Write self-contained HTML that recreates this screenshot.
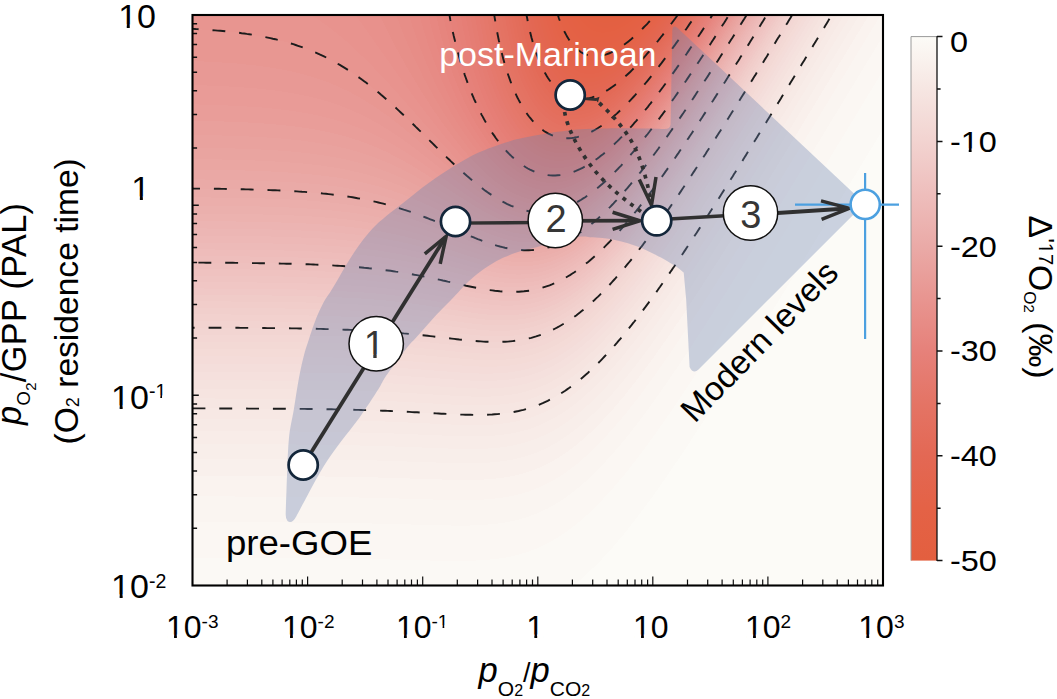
<!DOCTYPE html>
<html lang="en"><head><meta charset="utf-8"><title>chart</title>
<style>
html,body{margin:0;padding:0;background:#fff;}
body{width:1057px;height:699px;overflow:hidden;position:relative;font-family:"Liberation Sans",sans-serif;color:#000;}
svg{display:block;position:absolute;left:0;top:0;}
.t{position:absolute;white-space:nowrap;line-height:1;font-family:"Liberation Sans",sans-serif;transform-origin:0 0;}
.t span{font-family:"Liberation Sans",sans-serif;}
i{font-family:"Liberation Sans",sans-serif;font-style:italic;}
</style></head><body>
<svg width="1057" height="699" viewBox="0 0 1057 699">
<defs>
<clipPath id="plot"><rect x="192.5" y="15" width="690.5" height="570.5"/></clipPath>
<linearGradient id="cbg" x1="0" y1="0" x2="0" y2="1"><stop offset="0" stop-color="#fcfbf7"/><stop offset="0.1" stop-color="#f6e6e2"/><stop offset="0.2" stop-color="#f2d3d0"/><stop offset="0.3" stop-color="#eebebc"/><stop offset="0.4" stop-color="#eaaaa7"/><stop offset="0.5" stop-color="#e89590"/><stop offset="0.6" stop-color="#e6817a"/><stop offset="0.7" stop-color="#e47465"/><stop offset="0.8" stop-color="#e36854"/><stop offset="0.9" stop-color="#e46246"/><stop offset="1" stop-color="#e35f3f"/></linearGradient>
</defs>
<rect x="0" y="0" width="1057" height="699" fill="#ffffff"/>
<g clip-path="url(#plot)">
<rect x="192.5" y="15" width="690.5" height="570.5" fill="#fcfbf7"/>
<g shape-rendering="crispEdges">
<path fill="#fbf9f5" d="M188.5,3L188.5,617.7 274.3,617.8 332.1,618.2 372.3,618.8 449.3,620.4 466.8,620.3 482.6,619.6 494.9,618.4 505.4,616.8 515.9,614.6 526.4,611.5 536.9,607.5 545.6,603.5 556.1,597.6 564.9,591.8 575.4,583.9 580.6,579.6 587.6,573.3 599.9,561.3 612.2,548 624.4,533.5 638.4,515.6 654.2,494.3 669.9,471.8 685.7,448.4 703.2,421.6 722.4,391.4 745.2,355.1 801.2,264 887,122.7L887,3Z"/>
<path fill="#fbf7f3" d="M188.5,3L188.5,557.9 276,558.1 333.8,558.5 374.1,559.1 433.6,560.6 452.8,560.9 470.4,560.8 484.4,560.1 496.6,558.9 507.1,557.3 517.6,554.9 528.1,551.8 538.6,547.7 547.4,543.5 557.9,537.5 566.6,531.7 577.1,523.6 582.4,519.2 589.4,512.8 601.6,500.6 613.9,487.1 626.2,472.5 640.2,454.5 654.2,435.5 669.9,413 685.7,389.6 703.2,362.9 722.4,332.7 745.2,296.4 801.2,205.3 887,64L887,3Z"/>
<path fill="#faf5f1" d="M188.5,3L188.5,522.2 276,522.4 335.6,522.9 377.6,523.6 437.1,525.2 454.6,525.6 470.4,525.5 484.4,524.9 496.6,523.7 507.1,522.2 517.6,519.9 528.1,516.8 538.6,512.8 547.4,508.6 552.6,505.8 557.9,502.6 566.6,496.8 577.1,488.8 582.4,484.4 589.4,478 601.6,465.9 613.9,452.4 626.2,437.8 640.2,419.9 654.2,400.8 669.9,378.3 685.7,355 703.2,328.2 722.4,298.1 745.2,261.8 801.2,170.7 887,29.4L887,3Z"/>
<path fill="#faf3ef" d="M188.5,3L188.5,496.4 277.8,496.6 337.3,497.1 379.3,497.9 438.8,499.7 456.3,500.1 472.1,500 486.1,499.4 498.4,498.2 508.9,496.6 519.4,494.3 529.9,491.1 540.4,486.9 549.1,482.7 557.9,477.6 566.6,471.8 577.1,463.9 582.4,459.4 589.4,453.1 601.6,441 613.9,427.6 626.2,413 640.2,395.1 654.2,376 669.9,353.6 685.7,330.2 703.2,303.5 722.4,273.3 745.2,237 801.2,145.9 887,4.6L887,3Z"/>
<path fill="#f9f0ec" d="M188.5,3L188.5,475.9 269,476.1 325,476.5 377.6,477.5 454.6,479.9 472.1,480 486.1,479.4 498.4,478.3 508.9,476.8 519.4,474.5 528.1,471.9 538.6,468 547.4,463.9 556.1,459.1 564.9,453.5 575.4,445.7 580.6,441.4 587.6,435.3 592.9,430.3 599.9,423.4 612.2,410.1 624.4,395.7 638.4,378 652.4,359.1 666.4,339.3 682.2,316.1 697.9,292.2 717.2,262.2 738.2,228.9 785.5,152.4 874.7,5.5 876.5,3L876.5,3Z"/>
<path fill="#f8eeea" d="M188.5,3L188.5,458.8 272.5,459 330.3,459.5 381.1,460.6 456.3,463.2 472.1,463.3 486.1,462.9 498.4,461.8 508.9,460.3 519.4,458.1 528.1,455.6 536.9,452.4 545.6,448.6 554.4,443.9 563.1,438.5 573.6,431 578.9,426.8 585.9,420.8 596.4,410.8 608.7,398 620.9,383.9 634.9,366.5 648.9,347.9 662.9,328.3 676.9,308 692.7,284.3 708.4,260 727.7,229.7 752.2,190.5 782,142.2 866,4.1 867.7,3L867.7,3Z"/>
<path fill="#f8ece8" d="M188.5,3L188.5,444.1 276,444.3 333.8,444.9 384.6,446.1 456.3,448.8 472.1,449 486.1,448.7 498.4,447.7 508.9,446.3 519.4,444.1 528.1,441.6 536.9,438.5 545.6,434.7 554.4,430.1 563.1,424.7 573.6,417.2 578.9,413 585.9,407 596.4,397.1 608.7,384.3 620.9,370.3 634.9,352.9 648.9,334.3 662.9,314.7 676.9,294.4 692.7,270.7 710.2,243.7 729.4,213.4 752.2,176.9 780.2,131.5 857.2,5 859,3L859,3Z"/>
<path fill="#f7eae6" d="M188.5,3L188.5,431 277.8,431.3 337.3,431.9 386.3,433.2 458.1,436.2 473.9,436.4 486.1,436.1 496.6,435.4 507.1,434.2 517.6,432.2 526.4,429.9 535.1,427 543.9,423.3 552.6,418.9 561.4,413.7 571.9,406.5 577.1,402.4 584.1,396.5 594.6,386.9 606.9,374.3 619.2,360.4 631.4,345.4 645.4,327.1 659.4,307.8 673.4,287.6 689.2,264.2 704.9,240 724.2,209.8 746.9,173.5 775,128.2 850.2,4.7 852,3L852,3Z"/>
<path fill="#f7e8e4" d="M188.5,3L188.5,419.2 279.5,419.5 339.1,420.2 363.6,420.8 388.1,421.6 459.8,424.9 475.6,425.1 487.9,424.9 498.4,424.1 508.9,422.8 517.6,421.2 526.4,418.9 535.1,416 543.9,412.4 552.6,408.1 561.4,402.9 571.9,395.7 577.1,391.7 584.1,385.8 594.6,376.2 606.9,363.6 619.2,349.8 631.4,334.8 645.4,316.6 659.4,297.2 675.2,274.5 690.9,251 708.4,224 727.7,193.7 773.2,120.5 845,3L845,3Z"/>
<path fill="#f6e6e2" d="M188.5,3L188.5,408.4 281.3,408.7 340.8,409.5 365.3,410.1 389.8,411 461.6,414.6 475.6,414.9 487.9,414.7 498.4,414 508.9,412.8 517.6,411.2 526.4,409 535.1,406.1 543.9,402.6 552.6,398.3 561.4,393.2 571.9,386 577.1,382 584.1,376.2 594.6,366.5 606.9,354 619.2,340.2 631.4,325.3 643.7,309.3 657.7,290.2 671.7,270.1 685.7,249.4 701.4,225.4 720.7,195.3 743.4,159.1 768,119.5 838,4.8 839.7,3L839.7,3Z"/>
<path fill="#f6e4e0" d="M188.5,3L188.5,398.4 283,398.8 344.3,399.6 368.8,400.3 391.6,401.2 461.6,405.1 475.6,405.4 487.9,405.3 498.4,404.7 508.9,403.5 517.6,402 526.4,399.9 535.1,397.1 543.9,393.6 552.6,389.3 559.6,385.3 564.9,382 570.1,378.4 575.4,374.5 582.4,368.8 592.9,359.4 605.1,347.1 617.4,333.5 629.7,318.7 641.9,303 655.9,283.9 669.9,264 683.9,243.3 699.7,219.4 718.9,189.4 741.7,153.3 766.2,113.7 832.7,4.8 834.5,3L834.5,3Z"/>
<path fill="#f5e2de" d="M188.5,3L188.5,389.1 284.8,389.4 318,389.8 346.1,390.4 370.6,391.2 393.3,392.1 463.3,396.3 477.4,396.7 489.6,396.6 500.1,396 508.9,395 517.6,393.5 526.4,391.4 535.1,388.7 543.9,385.3 552.6,381 559.6,377.1 564.9,373.8 570.1,370.2 580.6,362.1 591.1,352.9 596.4,347.9 603.4,340.8 615.7,327.4 627.9,312.8 640.2,297.2 654.2,278.3 668.2,258.5 683.9,235.3 699.7,211.4 718.9,181.4 759.2,117.1 789,68.7 827.5,5.5 829.2,3L829.2,3Z"/>
<path fill="#f5e0dd" d="M188.5,3L188.5,380.2 284.8,380.6 318,381.1 347.8,381.7 372.3,382.5 395.1,383.6 465.1,388.1 477.4,388.5 489.6,388.5 500.1,387.9 508.9,387 517.6,385.6 526.4,383.6 535.1,380.9 543.9,377.5 552.6,373.3 559.6,369.4 564.9,366.1 570.1,362.5 580.6,354.5 591.1,345.3 596.4,340.4 603.4,333.3 613.9,321.9 626.2,307.5 638.4,292.1 652.4,273.3 666.4,253.6 680.4,233.1 696.2,209.4 711.9,185 732.9,151.9 757.5,112.5 787.2,64.2 824,3.9 825.7,3L825.7,3Z"/>
<path fill="#f4dedb" d="M188.5,3L188.5,371.9 284.8,372.3 318,372.7 347.8,373.4 372.3,374.3 396.8,375.5 466.8,380.4 479.1,380.8 491.4,380.8 501.9,380.2 510.6,379.3 519.4,377.8 528.1,375.7 536.9,373 543.9,370.2 552.6,366.1 559.6,362.2 564.9,358.9 570.1,355.4 580.6,347.4 591.1,338.3 596.4,333.3 603.4,326.3 613.9,314.9 626.2,300.5 638.4,285.1 652.4,266.4 666.4,246.7 680.4,226.2 696.2,202.5 715.4,172.6 734.7,142.2 755.7,108.5 820.5,3L820.5,3Z"/>
<path fill="#f4dcd9" d="M188.5,3L188.5,363.9 286.5,364.3 319.8,364.8 349.6,365.6 374.1,366.5 398.6,367.8 466.8,373 479.1,373.5 491.4,373.6 501.9,373.1 510.6,372.2 519.4,370.8 526.4,369.2 535.1,366.7 542.1,364.1 550.9,360.2 557.9,356.4 563.1,353.3 568.4,349.9 578.9,342.1 589.4,333.2 594.6,328.4 601.6,321.5 612.2,310.3 624.4,296.1 636.7,280.8 650.7,262.2 664.7,242.7 678.7,222.3 694.4,198.6 710.2,174.4 731.2,141.3 754,104.8 815.2,4.9 817,3L817,3Z"/>
<path fill="#f4dbd7" d="M188.5,3L188.5,356.2 288.3,356.7 321.5,357.2 351.3,358 375.8,359 400.3,360.5 468.6,366 480.9,366.6 493.1,366.7 503.6,366.2 512.4,365.3 521.1,363.8 528.1,362.2 536.9,359.5 543.9,356.9 550.9,353.7 557.9,350 563.1,346.9 568.4,343.5 578.9,335.8 589.4,326.9 599.9,317 610.4,306 622.7,292 634.9,276.9 648.9,258.5 662.9,239 676.9,218.8 692.7,195.2 708.4,171 729.4,138 752.2,101.5 811.7,4.6 813.5,3L813.5,3Z"/>
<path fill="#f3d9d5" d="M188.5,3L188.5,348.7 246.3,348.9 288.3,349.3 323.3,349.9 353.1,350.8 377.6,351.9 400.3,353.3 470.4,359.4 482.6,360 493.1,360.1 503.6,359.7 512.4,358.9 521.1,357.5 528.1,355.9 536.9,353.3 543.9,350.7 550.9,347.6 557.9,343.9 563.1,340.8 568.4,337.5 578.9,329.8 589.4,321 599.9,311 610.4,300.1 622.7,286.1 634.9,271 648.9,252.6 661.2,235.7 675.2,215.5 690.9,192 706.7,167.9 725.9,137.7 748.7,101.4 775,58.9 808.2,4.5 810,3L810,3Z"/>
<path fill="#f3d7d4" d="M188.5,3L188.5,341.5 246.3,341.7 288.3,342.1 323.3,342.7 353.1,343.7 377.6,344.8 402.1,346.5 423.1,348.4 459.8,352 472.1,353 484.4,353.7 494.9,353.8 503.6,353.5 512.4,352.7 521.1,351.4 528.1,349.9 536.9,347.3 543.9,344.8 550.9,341.7 557.9,338.1 563.1,335 568.4,331.7 573.6,328 578.9,324.1 589.4,315.3 599.9,305.4 610.4,294.4 622.7,280.5 634.9,265.4 648.9,247.1 661.2,230.1 675.2,210 690.9,186.5 706.7,162.4 725.9,132.2 748.7,95.9 804.7,4.8 806.5,3L806.5,3Z"/>
<path fill="#f2d5d2" d="M188.5,3L188.5,334.5 246.3,334.7 290,335.2 325,335.8 354.8,336.8 379.3,338.1 403.8,339.9 421.3,341.6 458.1,345.5 472.1,346.8 484.4,347.5 494.9,347.8 503.6,347.5 512.4,346.8 521.1,345.6 528.1,344.1 536.9,341.6 543.9,339.1 550.9,336.1 557.9,332.5 563.1,329.5 568.4,326.1 573.6,322.5 578.9,318.6 589.4,309.8 599.9,300 610.4,289.1 622.7,275.2 634.9,260.1 647.2,244.1 661.2,224.8 675.2,204.7 690.9,181.2 706.7,157.1 722.4,132.5 741.7,101.9 768,59.5 801.2,5.3 803,3L803,3Z"/>
<path fill="#f2d3d0" d="M188.5,3L188.5,327.7 248,327.9 291.8,328.4 326.8,329.1 356.6,330.2 381.1,331.6 403.8,333.4 421.3,335.1 459.8,339.5 473.9,340.9 486.1,341.7 496.6,341.9 505.4,341.7 512.4,341.2 521.1,340 528.1,338.5 535.1,336.7 542.1,334.3 549.1,331.5 556.1,328.1 561.4,325.2 566.6,322 571.9,318.5 577.1,314.7 587.6,306.1 598.1,296.5 608.7,285.8 620.9,272.1 633.2,257.2 645.4,241.4 657.7,224.7 669.9,207.3 683.9,186.7 697.9,165.6 717.2,135.7 739.9,99.7 766.2,57.4 799.5,3.1 801.2,3L801.2,3Z"/>
<path fill="#f2d1ce" d="M188.5,3L188.5,320.9 248,321.2 291.8,321.7 326.8,322.4 356.6,323.6 377.6,324.8 398.6,326.5 421.3,328.8 470.4,334.7 484.4,335.9 496.6,336.3 505.4,336.1 512.4,335.7 521.1,334.5 528.1,333.2 535.1,331.4 542.1,329.1 549.1,326.2 556.1,322.9 561.4,320 566.6,316.9 571.9,313.4 577.1,309.6 587.6,301.1 598.1,291.5 608.7,280.8 620.9,267.2 633.2,252.3 645.4,236.5 657.7,219.8 669.9,202.4 683.9,181.9 699.7,158 718.9,128.1 739.9,94.8 766.2,52.6 796,4.1 797.7,3L797.7,3Z"/>
<path fill="#f1cfcc" d="M188.5,3L188.5,314.3 249.8,314.6 293.5,315.1 328.6,316 358.3,317.2 379.3,318.6 400.3,320.4 423.1,322.9 472.1,329.1 486.1,330.4 498.4,330.8 507.1,330.7 514.1,330.2 521.1,329.3 528.1,328 535.1,326.2 542.1,324 549.1,321.2 556.1,317.9 561.4,315.1 566.6,311.9 571.9,308.5 577.1,304.7 587.6,296.3 598.1,286.7 608.7,276.1 620.9,262.4 633.2,247.6 645.4,231.8 657.7,215.1 671.7,195.2 685.7,174.6 701.4,150.7 717.2,126.3 734.7,98.6 761,56.4 792.5,5.2 794.2,3L794.2,3Z"/>
<path fill="#f1cdca" d="M188.5,3L188.5,307.8 249.8,308.1 293.5,308.6 328.6,309.5 358.3,310.9 379.3,312.3 400.3,314.2 423.1,316.8 461.6,322.2 473.9,323.8 486.1,324.9 498.4,325.5 507.1,325.4 514.1,325 521.1,324.2 528.1,322.9 535.1,321.2 542.1,319 549.1,316.3 556.1,313.1 561.4,310.3 566.6,307.1 571.9,303.7 577.1,300 587.6,291.6 598.1,282.1 608.7,271.4 619.2,259.9 631.4,245.2 643.7,229.6 655.9,213 668.2,195.8 682.2,175.3 696.2,154.3 715.4,124.5 736.4,91.3 761,52 790.7,3.6 792.5,3L792.5,3Z"/>
<path fill="#f0cbc8" d="M188.5,3L188.5,301.3 249.8,301.6 293.5,302.2 328.6,303.1 358.3,304.5 381.1,306.2 402.1,308.3 424.8,311.1 473.9,318.3 487.9,319.8 500.1,320.4 508.9,320.3 515.9,319.8 522.9,319 529.9,317.7 536.9,315.9 543.9,313.6 550.9,310.8 556.1,308.4 561.4,305.6 566.6,302.5 571.9,299.1 577.1,295.4 587.6,287.1 598.1,277.6 608.7,267 619.2,255.4 631.4,240.8 643.7,225.2 655.9,208.7 669.9,188.9 683.9,168.4 699.7,144.6 717.2,117.5 738.2,84.2 787.2,5 789,3L789,3Z"/>
<path fill="#f0c8c6" d="M188.5,3L188.5,294.8 249.8,295.2 293.5,295.8 330.3,296.9 360.1,298.4 382.8,300.2 403.8,302.4 426.6,305.6 463.3,311.4 475.6,313.2 487.9,314.6 500.1,315.3 508.9,315.3 515.9,314.9 522.9,314.1 529.9,312.9 536.9,311.2 543.9,309 550.9,306.2 556.1,303.8 564.9,299.1 570.1,295.8 575.4,292.2 580.6,288.3 585.9,284.1 596.4,274.9 606.9,264.5 617.4,253.1 629.7,238.7 641.9,223.2 654.2,206.9 666.4,189.7 680.4,169.4 694.4,148.4 711.9,121.5 732.9,88.4 757.5,49.1 785.5,3.7 787.2,3L787.2,3Z"/>
<path fill="#f0c6c4" d="M188.5,3L188.5,288.4 249.8,288.8 293.5,289.4 330.3,290.6 360.1,292.2 382.8,294.1 403.8,296.5 426.6,299.8 463.3,306 475.6,307.9 489.6,309.6 501.9,310.4 508.9,310.4 515.9,310.1 522.9,309.4 529.9,308.2 536.9,306.6 543.9,304.4 550.9,301.7 556.1,299.3 564.9,294.7 570.1,291.4 575.4,287.9 580.6,284 585.9,279.8 596.4,270.6 606.9,260.3 617.4,248.9 629.7,234.6 641.9,219.1 654.2,202.7 668.2,183.1 682.2,162.7 697.9,139 713.7,114.7 731.2,87.1 754,50.7 782,5.3 783.7,3L783.7,3Z"/>
<path fill="#efc4c2" d="M188.5,3L188.5,282 249.8,282.4 295.3,283.1 332.1,284.4 361.8,286.1 384.6,288.2 405.6,290.8 428.3,294.3 475.6,302.8 489.6,304.6 501.9,305.6 508.9,305.7 515.9,305.4 522.9,304.8 529.9,303.7 536.9,302.1 543.9,300 550.9,297.4 556.1,295 564.9,290.4 570.1,287.2 575.4,283.7 580.6,279.8 585.9,275.7 596.4,266.5 606.9,256.2 617.4,244.9 629.7,230.5 641.9,215.1 654.2,198.8 666.4,181.7 680.4,161.3 694.4,140.4 711.9,113.5 731.2,83.2 754,46.8 780.2,4.3 782,3L782,3Z"/>
<path fill="#efc2c0" d="M188.5,3L188.5,275.6 249.8,276 295.3,276.7 332.1,278.1 361.8,280 384.6,282.2 405.6,284.9 428.3,288.7 465.1,295.8 477.4,298 491.4,299.9 503.6,300.9 510.6,301 517.6,300.7 524.6,300 531.6,298.9 538.6,297.2 543.9,295.7 550.9,293.1 556.1,290.8 564.9,286.2 570.1,283 575.4,279.5 580.6,275.7 585.9,271.6 596.4,262.5 606.9,252.2 617.4,240.9 627.9,228.7 640.2,213.5 650.7,199.6 662.9,182.7 675.2,165.2 689.2,144.5 706.7,117.8 727.7,84.9 750.5,48.6 778.5,3.3 780.2,3L780.2,3Z"/>
<path fill="#eec0be" d="M188.5,3L188.5,269.1 249.8,269.5 295.3,270.3 332.1,271.8 347.8,272.7 361.8,273.8 384.6,276.1 405.6,279 428.3,283 465.1,290.6 477.4,293 491.4,295.1 503.6,296.2 510.6,296.4 517.6,296.2 524.6,295.6 529.9,294.8 536.9,293.4 542.1,292 549.1,289.6 554.4,287.4 563.1,283.1 568.4,280.1 573.6,276.7 578.9,273 584.1,269 594.6,260.1 605.1,250.1 615.7,239 627.9,224.9 640.2,209.7 652.4,193.5 664.7,176.5 678.7,156.3 694.4,132.8 710.2,108.6 725.9,84 748.7,47.7 775,5.3 776.7,3L776.7,3Z"/>
<path fill="#eebebc" d="M188.5,3L188.5,262.6 249.8,263 295.3,263.9 314.5,264.6 332.1,265.4 347.8,266.4 361.8,267.6 384.6,270 405.6,273.1 428.3,277.4 466.8,285.8 479.1,288.3 493.1,290.6 505.4,291.7 512.4,291.9 519.4,291.7 526.4,291 531.6,290.2 538.6,288.7 543.9,287.2 549.1,285.4 554.4,283.3 563.1,279.1 568.4,276.1 573.6,272.7 578.9,269.1 584.1,265.1 594.6,256.3 605.1,246.3 615.7,235.2 626.2,223.2 638.4,208.2 650.7,192.1 662.9,175.3 676.9,155.2 690.9,134.4 708.4,107.7 727.7,77.6 748.7,44.1 773.2,4.5 775,3L775,3Z"/>
<path fill="#eebcba" d="M188.5,3L188.5,256 249.8,256.5 295.3,257.4 314.5,258.1 332.1,259 347.8,260.1 361.8,261.3 384.6,263.9 396.8,265.7 407.3,267.5 430.1,272.1 466.8,280.7 479.1,283.4 493.1,285.8 505.4,287.2 512.4,287.4 519.4,287.3 526.4,286.8 531.6,286 538.6,284.6 543.9,283.1 549.1,281.4 554.4,279.3 563.1,275.1 568.4,272.2 573.6,268.9 582.4,262.7 592.9,254.1 603.4,244.3 613.9,233.5 624.4,221.6 636.7,206.7 648.9,190.9 661.2,174.1 673.4,156.7 687.4,136.1 704.9,109.5 724.2,79.5 745.2,46.2 771.5,3.8 773.2,3L773.2,3Z"/>
<path fill="#edbab8" d="M188.5,3L188.5,249.3 251.5,249.8 297,250.8 316.3,251.6 333.8,252.6 349.6,253.8 363.6,255.1 386.3,258 407.3,261.6 417.8,263.7 430.1,266.5 466.8,275.7 480.9,278.9 494.9,281.5 501.9,282.3 507.1,282.8 514.1,283.1 519.4,283 526.4,282.5 531.6,281.9 538.6,280.5 543.9,279.1 549.1,277.4 554.4,275.4 563.1,271.2 568.4,268.3 573.6,265.1 582.4,258.9 592.9,250.4 603.4,240.6 613.9,229.8 624.4,218 636.7,203.2 647.2,189.7 659.4,173.1 671.7,155.7 685.7,135.2 703.2,108.8 722.4,78.8 743.4,45.5 769.7,3.2 771.5,3L771.5,3Z"/>
<path fill="#edb8b6" d="M188.5,3L188.5,242.5 251.5,243 297,244.1 316.3,245 333.8,246 349.6,247.3 363.6,248.7 375.8,250.2 386.3,251.8 396.8,253.6 407.3,255.6 417.8,257.9 430.1,260.8 466.8,270.6 480.9,274.1 494.9,276.9 501.9,277.9 507.1,278.4 514.1,278.8 519.4,278.8 526.4,278.4 531.6,277.8 538.6,276.5 543.9,275.1 549.1,273.5 554.4,271.5 563.1,267.4 568.4,264.5 573.6,261.3 582.4,255.2 587.6,251.1 592.9,246.7 603.4,237.1 613.9,226.3 624.4,214.5 636.7,199.7 648.9,183.9 661.2,167.2 675.2,147.3 689.2,126.6 704.9,102.7 720.7,78.2 741.7,44.9 766.2,5.5 768,3L768,3Z"/>
<path fill="#ecb6b4" d="M188.5,3L188.5,235.5 251.5,236.1 276,236.6 297,237.3 316.3,238.2 333.8,239.3 349.6,240.7 363.6,242.2 375.8,243.8 386.3,245.5 396.8,247.4 407.3,249.6 417.8,252 430.1,255.1 468.6,266 480.9,269.3 489.6,271.3 496.6,272.6 503.6,273.6 508.9,274.2 515.9,274.5 521.1,274.5 526.4,274.3 531.6,273.7 538.6,272.5 543.9,271.2 549.1,269.6 554.4,267.7 563.1,263.7 568.4,260.8 573.6,257.7 582.4,251.6 587.6,247.5 592.9,243.2 603.4,233.5 613.9,222.8 624.4,211.1 636.7,196.3 648.9,180.5 661.2,163.8 673.4,146.4 687.4,125.9 701.4,104.7 715.4,83.1 738.2,47.2 764.5,5 766.2,3L766.2,3Z"/>
<path fill="#ecb4b2" d="M188.5,3L188.5,228.3 251.5,229 276,229.6 297,230.3 316.3,231.2 333.8,232.4 349.6,233.9 363.6,235.5 375.8,237.3 386.3,239.1 398.6,241.5 409.1,243.8 419.6,246.5 431.8,249.9 468.6,261 480.9,264.5 489.6,266.6 496.6,268.1 503.6,269.2 508.9,269.8 515.9,270.3 521.1,270.4 526.4,270.2 531.6,269.7 538.6,268.6 543.9,267.3 549.1,265.8 554.4,263.9 563.1,260 568.4,257.2 573.6,254 582.4,248 587.6,244 592.9,239.7 603.4,230.1 613.9,219.4 624.4,207.7 634.9,195.1 647.2,179.4 659.4,162.9 671.7,145.6 685.7,125.2 701.4,101.4 718.9,74.3 739.9,41.1 762.7,4.6 764.5,3L764.5,3Z"/>
<path fill="#ecb2af" d="M188.5,3L188.5,221 244.5,221.6 284.8,222.6 302.3,223.3 318,224.2 332.1,225.3 346.1,226.6 361.8,228.5 375.8,230.6 389.8,233.2 403.8,236.3 416.1,239.5 430.1,243.5 468.6,256 480.9,259.7 493.1,262.8 503.6,264.8 510.6,265.7 517.6,266.2 524.6,266.2 529.9,265.9 536.9,265 542.1,263.9 549.1,262 554.4,260.2 563.1,256.3 568.4,253.6 573.6,250.5 582.4,244.5 587.6,240.5 592.9,236.2 603.4,226.7 613.9,216 624.4,204.3 634.9,191.8 645.4,178.5 657.7,162.1 669.9,144.9 683.9,124.5 699.7,100.9 717.2,73.9 738.2,40.7 761,4.2 762.7,3L762.7,3Z"/>
<path fill="#ebb0ad" d="M188.5,3L188.5,213.4 244.5,214 284.8,215.1 302.3,215.9 318,216.9 333.8,218.2 347.8,219.6 363.6,221.7 377.6,224.1 391.6,227 405.6,230.4 417.8,233.8 430.1,237.6 468.6,250.9 480.9,254.8 493.1,258.2 503.6,260.5 510.6,261.5 517.6,262.1 524.6,262.2 529.9,261.9 536.9,261.1 542.1,260.1 549.1,258.3 554.4,256.5 563.1,252.7 568.4,250 573.6,246.9 582.4,241.1 587.6,237.1 592.9,232.8 603.4,223.3 613.9,212.7 624.4,201.1 634.9,188.5 645.4,175.2 657.7,158.9 669.9,141.7 682.2,124 697.9,100.4 715.4,73.4 736.4,40.4 759.2,3.9 761,3L761,3Z"/>
<path fill="#ebaeab" d="M188.5,3L188.5,205.5 244.5,206.1 267.3,206.7 286.5,207.4 304,208.3 319.8,209.4 335.6,210.8 349.6,212.5 363.6,214.5 377.6,217.1 391.6,220.2 405.6,223.8 417.8,227.5 430.1,231.6 468.6,245.8 480.9,250 493.1,253.7 503.6,256.1 510.6,257.2 517.6,257.9 524.6,258.2 529.9,258 536.9,257.3 542.1,256.4 549.1,254.6 554.4,252.9 563.1,249.2 571.9,244.5 580.6,238.9 585.9,235.1 591.1,230.9 601.6,221.7 612.2,211.3 622.7,199.8 633.2,187.5 643.7,174.3 655.9,158.1 668.2,141.1 680.4,123.4 696.2,99.9 713.7,73.1 734.7,40.1 757.5,3.6 759.2,3L759.2,3Z"/>
<path fill="#eaaca9" d="M188.5,3L188.5,197.2 246.3,198 269,198.6 288.3,199.4 305.8,200.4 321.5,201.6 337.3,203.3 351.3,205.1 365.3,207.4 379.3,210.2 393.3,213.6 405.6,217.1 417.8,221.1 430.1,225.5 466.8,239.9 479.1,244.5 491.4,248.6 501.9,251.3 508.9,252.7 515.9,253.7 522.9,254.2 528.1,254.2 535.1,253.7 540.4,252.9 547.4,251.4 552.6,249.8 561.4,246.4 570.1,242.1 578.9,236.7 584.1,233 589.4,229 599.9,220 610.4,209.8 620.9,198.6 631.4,186.4 641.9,173.4 654.2,157.3 666.4,140.5 678.7,122.9 694.4,99.5 711.9,72.7 732.9,39.8 755.7,3.4 757.5,3L757.5,3Z"/>
<path fill="#eaaaa7" d="M188.5,3L188.5,188.5 246.3,189.4 269,190.1 288.3,190.9 305.8,192 321.5,193.4 337.3,195.1 351.3,197.1 365.3,199.6 379.3,202.7 393.3,206.4 405.6,210.2 417.8,214.5 430.1,219.2 466.8,234.7 479.1,239.6 491.4,243.9 501.9,246.9 508.9,248.5 515.9,249.6 522.9,250.1 528.1,250.2 535.1,249.9 540.4,249.2 547.4,247.7 552.6,246.2 561.4,242.9 570.1,238.6 578.9,233.3 584.1,229.7 589.4,225.7 599.9,216.8 610.4,206.7 620.9,195.5 631.4,183.3 641.9,170.3 652.4,156.6 664.7,139.9 676.9,122.4 692.7,99.1 710.2,72.4 731.2,39.6 754,3.3 755.7,3L755.7,3Z"/>
<path fill="#eaa8a5" d="M188.5,3L188.5,179.3 220,179.7 246.3,180.3 269,181 288.3,182 305.8,183.2 321.5,184.7 337.3,186.6 351.3,188.8 365.3,191.6 379.3,194.9 393.3,198.9 405.6,203 417.8,207.6 430.1,212.7 466.8,229.4 479.1,234.6 491.4,239.3 501.9,242.5 508.9,244.2 515.9,245.4 522.9,246.1 528.1,246.3 535.1,246.1 540.4,245.5 547.4,244.1 552.6,242.7 561.4,239.5 570.1,235.2 578.9,230 584.1,226.4 589.4,222.4 594.6,218.2 599.9,213.6 610.4,203.5 620.9,192.4 631.4,180.2 641.9,167.3 652.4,153.6 664.7,136.9 676.9,119.4 692.7,96.1 710.2,69.5 729.4,39.4 752.2,3.1 754,3L754,3Z"/>
<path fill="#eaa6a2" d="M188.5,3L188.5,169.5 218.3,169.9 244.5,170.5 267.3,171.3 286.5,172.4 304,173.7 321.5,175.5 337.3,177.6 351.3,180 365.3,183.1 379.3,186.7 391.6,190.5 405.6,195.6 416.1,199.9 428.3,205.3 466.8,224 479.1,229.6 491.4,234.6 501.9,238.1 508.9,239.9 515.9,241.3 522.9,242.2 528.1,242.4 535.1,242.3 540.4,241.8 547.4,240.5 552.6,239.1 561.4,236 570.1,231.9 578.9,226.7 584.1,223.1 589.4,219.2 598.1,212 608.7,202.1 619.2,191.2 629.7,179.3 640.2,166.5 650.7,152.9 662.9,136.3 675.2,119 690.9,95.8 708.4,69.3 727.7,39.2 750.5,3 752.2,3L752.2,3Z"/>
<path fill="#e9a4a0" d="M188.5,3L188.5,159 218.3,159.4 244.5,160.1 267.3,161 286.5,162.2 304,163.6 319.8,165.4 335.6,167.7 349.6,170.4 363.6,173.6 377.6,177.6 389.8,181.7 403.8,187.1 416.1,192.5 428.3,198.4 465.1,217.6 477.4,223.7 489.6,229.2 496.6,231.9 501.9,233.6 508.9,235.7 515.9,237.2 522.9,238.2 528.1,238.5 535.1,238.5 540.4,238.1 547.4,236.9 552.6,235.6 561.4,232.6 570.1,228.5 578.9,223.4 584.1,219.9 589.4,216 594.6,211.8 599.9,207.3 610.4,197.3 620.9,186.2 631.4,174.2 641.9,161.3 654.2,145.3 666.4,128.5 680.4,108.5 694.4,87.7 710.2,63.7 727.7,36.4 748.7,3L748.7,3Z"/>
<path fill="#e9a29e" d="M188.5,3L188.5,147.5 218.3,148 244.5,148.8 267.3,149.8 286.5,151.1 304,152.8 319.8,154.8 335.6,157.4 349.6,160.3 363.6,164 377.6,168.4 389.8,172.9 403.8,178.9 414.3,183.9 426.6,190.2 463.3,210.9 475.6,217.6 487.9,223.5 494.9,226.5 500.1,228.5 507.1,230.8 514.1,232.7 521.1,233.9 526.4,234.5 533.4,234.8 538.6,234.5 545.6,233.6 550.9,232.5 556.1,231 559.6,229.8 568.4,226.1 577.1,221.3 582.4,217.9 587.6,214.2 592.9,210.1 598.1,205.7 608.7,196 619.2,185.1 629.7,173.3 640.2,160.5 652.4,144.7 664.7,128.1 678.7,108.1 692.7,87.5 708.4,63.5 725.9,36.3 746.9,3L746.9,3Z"/>
<path fill="#e9a09c" d="M188.5,3L188.5,134.8 218.3,135.4 242.8,136.2 265.5,137.4 284.8,138.8 302.3,140.7 318,142.9 333.8,145.8 347.8,149 361.8,153 374.1,157.2 386.3,162 400.3,168.4 412.6,174.8 424.8,181.6 437.1,188.9 463.3,205 475.6,212.2 487.9,218.6 494.9,221.8 500.1,224 507.1,226.5 514.1,228.5 521.1,229.9 526.4,230.6 533.4,231 538.6,230.8 545.6,230 550.9,229 554.4,228.1 559.6,226.4 568.4,222.7 577.1,218 582.4,214.7 587.6,211 592.9,207 598.1,202.6 608.7,193 619.2,182.1 629.7,170.3 640.2,157.6 652.4,141.8 664.7,125.2 678.7,105.3 692.7,84.6 708.4,60.7 724.2,36.2 745.2,3L745.2,3Z"/>
<path fill="#e99d99" d="M188.5,3L188.5,120.6 218.3,121.3 242.8,122.2 263.8,123.5 283,125.1 300.5,127.2 316.3,129.7 332.1,132.9 346.1,136.6 360.1,141 372.3,145.6 384.6,151 398.6,158.1 410.8,165 423.1,172.5 461.6,197.9 473.9,205.6 486.1,212.6 493.1,216.2 498.4,218.6 505.4,221.4 512.4,223.7 519.4,225.5 526.4,226.6 533.4,227.2 538.6,227.1 545.6,226.5 550.9,225.5 554.4,224.6 559.6,223 563.1,221.7 568.4,219.4 577.1,214.8 582.4,211.5 587.6,207.9 596.4,201 606.9,191.6 617.4,181.1 627.9,169.4 638.4,156.9 650.7,141.3 662.9,124.8 676.9,105 690.9,84.4 706.7,60.6 724.2,33.4 743.4,3L743.4,3Z"/>
<path fill="#e99b97" d="M188.5,3L188.5,104.2 216.5,105 241,106.1 262,107.5 281.3,109.5 298.8,111.9 314.5,114.7 330.3,118.5 344.3,122.6 358.3,127.6 370.6,132.9 382.8,138.9 396.8,146.7 407.3,153.2 419.6,161.4 431.8,170.1 458.1,189.1 472.1,198.8 484.4,206.4 491.4,210.4 496.6,213 503.6,216.2 510.6,218.9 517.6,220.9 524.6,222.4 531.6,223.3 536.9,223.4 543.9,223.1 549.1,222.3 552.6,221.6 557.9,220.2 561.4,219 566.6,216.9 575.4,212.6 580.6,209.5 585.9,206 594.6,199.4 605.1,190.3 615.7,179.9 626.2,168.5 636.7,156.2 647.2,143 657.7,129.1 669.9,112.2 685.7,89.4 701.4,65.9 720.7,36.2 741.7,3 743.4,3L743.4,3Z"/>
<path fill="#e89995" d="M188.5,3L188.5,84.9 216.5,85.8 239.3,87.1 260.3,88.8 279.5,91.1 297,94 312.8,97.4 326.8,101.2 340.8,105.9 347.8,108.7 354.8,111.7 367.1,117.6 379.3,124.3 393.3,133.1 403.8,140.3 416.1,149.3 428.3,158.8 454.6,179.6 468.6,190.3 475.6,195.3 482.6,200 489.6,204.3 494.9,207.2 501.9,210.8 508.9,213.8 515.9,216.2 522.9,218.1 529.9,219.2 535.1,219.6 542.1,219.6 547.4,219 550.9,218.5 556.1,217.3 559.6,216.2 564.9,214.4 568.4,212.9 573.6,210.3 578.9,207.4 584.1,204.1 592.9,197.7 598.1,193.5 603.4,188.9 613.9,178.8 624.4,167.6 634.9,155.4 645.4,142.4 655.9,128.7 668.2,111.9 683.9,89.3 699.7,65.8 718.9,36.2 739.9,3.1 741.7,3L741.7,3Z"/>
<path fill="#e89792" d="M188.5,3L188.5,60.8 213,61.9 235.8,63.4 256.8,65.6 274.3,68.1 290,71.1 305.8,75 314.5,77.6 321.5,79.9 328.6,82.5 335.6,85.4 342.6,88.6 349.6,92 361.8,98.7 374.1,106.4 388.1,116.2 398.6,124.2 410.8,134.3 423.1,144.8 451.1,169.4 465.1,181.1 472.1,186.7 479.1,191.9 486.1,196.8 491.4,200.1 498.4,204.2 505.4,207.7 512.4,210.7 519.4,213 526.4,214.7 533.4,215.7 540.4,216 545.6,215.7 550.9,215 554.4,214.3 557.9,213.4 563.1,211.7 566.6,210.3 571.9,208 577.1,205.2 582.4,202.1 591.1,196 596.4,191.9 601.6,187.5 612.2,177.6 622.7,166.7 633.2,154.7 643.7,141.8 654.2,128.2 666.4,111.6 682.2,89.1 697.9,65.7 717.2,36.2 738.2,3.2 739.9,3L739.9,3Z"/>
<path fill="#e89590" d="M188.5,3L188.5,28.6 213,30.2 234,32.2 251.5,34.6 269,37.8 284.8,41.7 293.5,44.3 300.5,46.6 307.5,49.2 314.5,52.1 321.5,55.2 328.6,58.7 340.8,65.5 353.1,73.3 365.3,82.1 379.3,93.3 391.6,104 403.8,115.3 444.1,154.7 458.1,168 472.1,180.3 479.1,186 486.1,191.2 494.9,197.1 501.9,201.2 508.9,204.7 515.9,207.6 522.9,209.8 529.9,211.4 536.9,212.1 543.9,212.2 549.1,211.7 552.6,211.2 556.1,210.4 561.4,208.9 564.9,207.7 570.1,205.6 575.4,203 580.6,200 589.4,194.3 594.6,190.3 599.9,186 610.4,176.4 620.9,165.7 631.4,153.9 641.9,141.3 654.2,125.5 666.4,108.8 682.2,86.4 697.9,63 715.4,36.2 736.4,3.3 738.2,3L738.2,3Z"/>
<path fill="#e8938e" d="M288.3,3L288.3,3 290,3.3 302.3,9.7 311,14.9 319.8,20.6 328.6,26.9 337.3,33.7 346.1,41.1 354.8,49 368.8,62.6 384.6,79 400.3,96.4 435.3,136 451.1,153.1 459.8,162.1 466.8,168.9 475.6,176.9 482.6,182.8 491.4,189.5 498.4,194.2 507.1,199.2 514.1,202.5 521.1,205.1 528.1,207 535.1,208.2 542.1,208.6 547.4,208.3 550.9,207.9 554.4,207.3 559.6,206.1 563.1,205 568.4,203.1 573.6,200.7 578.9,197.9 587.6,192.4 592.9,188.6 598.1,184.5 608.7,175.2 619.2,164.7 629.7,153.1 640.2,140.6 652.4,125.1 664.7,108.5 680.4,86.2 696.2,63 713.7,36.3 734.7,3.4 736.4,3L736.4,3Z"/>
<path fill="#e8918c" d="M346.1,3L346.1,3 347.8,4 400.3,78.1 414.3,97.4 426.6,113.7 438.8,129.4 449.3,142.1 459.8,154.1 468.6,163.4 479.1,173.6 487.9,181.1 493.1,185.2 498.4,189 507.1,194.4 512.4,197.2 517.6,199.6 522.9,201.5 526.4,202.5 531.6,203.7 535.1,204.3 540.4,204.8 543.9,204.9 547.4,204.7 552.6,204.2 556.1,203.5 561.4,202.2 564.9,201.1 570.1,199.1 575.4,196.7 580.6,193.8 589.4,188.2 594.6,184.3 599.9,180.1 610.4,170.7 620.9,160 631.4,148.3 641.9,135.7 652.4,122.3 664.7,105.8 680.4,83.6 696.2,60.3 713.7,33.7 732.9,3.6 734.7,3L734.7,3Z"/>
<path fill="#e78f89" d="M372.3,3L372.3,3 374.1,3.2 384.6,25.5 395.1,46 407.3,68.1 419.6,88.6 431.8,107.6 442.3,122.8 454.6,139.1 465.1,151.9 475.6,163.4 480.9,168.7 486.1,173.6 491.4,178.2 496.6,182.4 505.4,188.5 510.6,191.6 515.9,194.3 521.1,196.6 524.6,197.8 529.9,199.4 535.1,200.4 540.4,201 543.9,201.2 547.4,201.1 552.6,200.7 556.1,200.1 561.4,198.9 564.9,197.8 570.1,195.9 575.4,193.5 580.6,190.7 589.4,185.1 594.6,181.3 599.9,177.1 608.7,169.4 619.2,159 629.7,147.6 640.2,135.1 652.4,119.6 664.7,103.2 678.7,83.4 694.4,60.3 711.9,33.7 731.2,3.7 732.9,3L732.9,3Z"/>
<path fill="#e78d87" d="M391.6,3L391.6,3 393.3,7.2 400.3,26.3 407.3,43.4 416.1,62.6 424.8,80.1 435.3,99.1 445.8,116.3 456.3,131.8 466.8,145.8 472.1,152.2 477.4,158.2 482.6,163.8 487.9,169.1 493.1,173.9 498.4,178.3 507.1,184.6 512.4,187.8 517.6,190.6 522.9,192.9 526.4,194.2 531.6,195.7 536.9,196.8 540.4,197.2 545.6,197.5 549.1,197.4 554.4,196.9 557.9,196.3 563.1,195 566.6,193.9 571.9,191.9 577.1,189.4 582.4,186.6 591.1,180.9 596.4,177 601.6,172.7 610.4,164.9 620.9,154.4 631.4,142.8 641.9,130.3 652.4,116.9 664.7,100.5 678.7,80.8 694.4,57.7 710.2,33.8 729.4,3.9 731.2,3L731.2,3Z"/>
<path fill="#e78b85" d="M403.8,3L403.8,3 405.6,3.5 409.1,15.6 412.6,26.8 419.6,46.6 426.6,64.1 430.1,72.1 435.3,83.3 444.1,100.5 452.8,115.8 461.6,129.5 470.4,141.9 479.1,152.9 484.4,158.9 489.6,164.5 494.9,169.5 500.1,174.1 505.4,178.3 508.9,180.7 514.1,184.1 519.4,186.9 524.6,189.3 528.1,190.6 531.6,191.7 536.9,192.9 542.1,193.6 547.4,193.8 550.9,193.7 556.1,193.2 559.6,192.5 564.9,191.2 568.4,190 573.6,187.9 577.1,186.3 582.4,183.5 591.1,177.9 596.4,174 601.6,169.8 610.4,162.1 620.9,151.6 631.4,140 641.9,127.6 652.4,114.2 664.7,97.8 678.7,78.2 692.7,57.7 708.4,33.9 727.7,4.1 729.4,3L729.4,3Z"/>
<path fill="#e78983" d="M416.1,3L416.1,3 417.8,8.9 423.1,28.4 428.3,45.3 433.6,60.1 440.6,77.6 447.6,93.1 451.1,100.2 456.3,110.1 465.1,125.1 473.9,138.3 482.6,149.8 491.4,159.9 494.9,163.5 500.1,168.5 505.4,172.9 510.6,176.9 514.1,179.2 519.4,182.3 524.6,184.9 529.9,187 533.4,188 538.6,189.3 543.9,190 549.1,190.2 552.6,190 557.9,189.4 561.4,188.7 566.6,187.3 570.1,186.1 575.4,183.9 578.9,182.3 584.1,179.4 592.9,173.7 601.6,166.9 610.4,159.2 620.9,148.8 631.4,137.3 641.9,124.8 652.4,111.6 664.7,95.2 678.7,75.6 692.7,55.1 708.4,31.3 725.9,4.3 727.7,3L727.7,3Z"/>
<path fill="#e78781" d="M424.8,3L424.8,3 426.6,7.3 431.8,29.2 437.1,47.5 442.3,63.3 447.6,77.3 454.6,93.7 461.6,108.1 468.6,120.8 472.1,126.7 477.4,134.8 480.9,139.9 486.1,146.9 489.6,151.2 494.9,157.2 498.4,160.9 503.6,165.9 507.1,168.9 512.4,173 515.9,175.5 521.1,178.6 524.6,180.4 529.9,182.7 533.4,183.9 538.6,185.3 543.9,186.2 549.1,186.5 556.1,186.1 559.6,185.6 564.9,184.5 568.4,183.4 573.6,181.5 577.1,180 582.4,177.3 591.1,171.9 596.4,168.1 601.6,164 610.4,156.4 620.9,146 629.7,136.5 640.2,124.3 650.7,111.2 662.9,95 676.9,75.5 690.9,55.1 706.7,31.5 724.2,4.4 725.9,3L725.9,3Z"/>
<path fill="#e6857e" d="M433.6,3L433.6,3 438.8,27 442.3,40.8 447.6,58.6 452.8,74 458.1,87.5 465.1,103.2 472.1,116.9 475.6,123.1 480.9,131.6 487.9,141.8 491.4,146.4 496.6,152.7 500.1,156.6 505.4,161.8 508.9,165 514.1,169.2 517.6,171.7 522.9,174.9 526.4,176.8 531.6,179.1 535.1,180.3 540.4,181.7 545.6,182.5 550.9,182.8 557.9,182.4 561.4,181.9 566.6,180.7 570.1,179.6 575.4,177.6 578.9,176 584.1,173.2 592.9,167.7 601.6,161.1 610.4,153.5 620.9,143.2 629.7,133.8 640.2,121.6 650.7,108.5 662.9,92.3 673.4,77.8 685.7,60.3 703.2,34.2 722.4,4.6 724.2,3L724.2,3Z"/>
<path fill="#e6837c" d="M440.6,3L440.6,3 445.8,28 449.3,42.5 454.6,61 459.8,76.7 465.1,90.4 468.6,98.6 472.1,106.2 479.1,119.7 486.1,131.4 493.1,141.5 496.6,146.1 501.9,152.2 508.9,159.4 512.4,162.5 517.6,166.7 521.1,169.1 526.4,172.3 529.9,174 535.1,176.1 538.6,177.2 543.9,178.4 547.4,178.9 552.6,179.2 559.6,178.7 563.1,178.1 568.4,176.8 571.9,175.7 577.1,173.6 580.6,172 585.9,169.1 594.6,163.5 603.4,156.8 612.2,149.1 622.7,138.6 631.4,129.1 641.9,116.8 652.4,103.6 664.7,87.4 675.2,72.8 687.4,55.1 703.2,31.7 720.7,4.8 722.4,3L722.4,3Z"/>
<path fill="#e6817a" d="M445.8,3L445.8,3 447.6,4.7 451.1,23.6 454.6,39.5 459.8,59.3 465.1,75.9 470.4,90 475.6,102.4 479.1,109.8 482.6,116.6 489.6,128.7 496.6,139.1 500.1,143.7 505.4,149.9 512.4,157 515.9,160.1 521.1,164.2 524.6,166.5 528.1,168.6 531.6,170.4 536.9,172.5 540.4,173.6 545.6,174.8 549.1,175.3 554.4,175.5 561.4,174.9 564.9,174.3 570.1,173 577.1,170.4 580.6,168.8 585.9,166 594.6,160.5 603.4,153.9 612.2,146.2 622.7,135.9 631.4,126.4 641.9,114.1 652.4,101 664.7,84.8 675.2,70.2 687.4,52.6 703.2,29.1 718.9,5 720.7,3L720.7,3Z"/>
<path fill="#e68078" d="M452.8,3L452.8,3 458.1,30 461.6,45.5 465.1,58.9 470.4,76 475.6,90.4 480.9,102.9 486.1,113.7 489.6,120.2 493.1,126.2 496.6,131.7 500.1,136.8 503.6,141.4 507.1,145.7 510.6,149.6 514.1,153.1 517.6,156.3 522.9,160.5 526.4,162.9 529.9,165 533.4,166.8 538.6,168.9 542.1,170 545.6,170.9 549.1,171.4 554.4,171.8 557.9,171.7 561.4,171.4 564.9,170.9 570.1,169.6 577.1,167.2 580.6,165.7 585.9,163 594.6,157.5 603.4,151 612.2,143.4 622.7,133.1 631.4,123.7 641.9,111.5 652.4,98.4 662.9,84.5 673.4,70.1 685.7,52.6 701.4,29.3 717.2,5.2 718.9,3L718.9,3Z"/>
<path fill="#e67e76" d="M458.1,3L458.1,3 459.8,10.7 463.3,30 466.8,46 470.4,59.6 473.9,71.5 479.1,86.9 484.4,99.9 489.6,111.2 493.1,117.8 496.6,123.9 500.1,129.5 503.6,134.6 507.1,139.3 510.6,143.5 514.1,147.4 517.6,150.8 521.1,153.9 524.6,156.7 528.1,159.2 531.6,161.3 535.1,163.1 540.4,165.3 543.9,166.4 547.4,167.3 550.9,167.8 556.1,168.1 559.6,168 563.1,167.7 566.6,167.1 571.9,165.8 578.9,163.2 582.4,161.7 587.6,158.9 596.4,153.3 605.1,146.6 613.9,138.9 622.7,130.4 631.4,121 641.9,108.8 652.4,95.7 662.9,81.9 673.4,67.5 685.7,50 697.9,32 715.4,5.4 717.2,3L717.2,3Z"/>
<path fill="#e57d74" d="M463.3,3L463.3,3 466.8,22.4 470.4,40.1 473.9,54.9 479.1,73.3 484.4,88.5 489.6,101.3 494.9,112.3 500.1,121.8 503.6,127.5 507.1,132.6 510.6,137.2 514.1,141.4 517.6,145.2 521.1,148.6 524.6,151.6 528.1,154.3 531.6,156.6 535.1,158.6 538.6,160.3 542.1,161.7 545.6,162.8 549.1,163.6 552.6,164.2 557.9,164.5 561.4,164.3 564.9,163.9 571.9,162.4 578.9,160 582.4,158.5 587.6,155.8 591.1,153.7 596.4,150.3 605.1,143.7 613.9,136.1 622.7,127.6 631.4,118.3 641.9,106.1 652.4,93.1 662.9,79.3 675.2,62.5 687.4,45 699.7,26.8 715.4,3L715.4,3Z"/>
<path fill="#e57c72" d="M466.8,3L466.8,3 468.6,4 472.1,25.6 475.6,43.1 479.1,57.6 480.9,64.1 484.4,75.7 487.9,85.9 493.1,99.1 498.4,110.3 503.6,119.9 508.9,128.1 512.4,133 515.9,137.3 519.4,141.2 522.9,144.7 526.4,147.9 529.9,150.6 533.4,153 536.9,155 540.4,156.7 543.9,158.1 547.4,159.2 550.9,160 554.4,160.5 559.6,160.8 563.1,160.6 566.6,160.2 573.6,158.6 580.6,156.1 584.1,154.5 589.4,151.7 596.4,147.3 605.1,140.8 613.9,133.3 622.7,124.8 631.4,115.6 640.2,105.5 648.9,94.9 657.7,83.7 669.9,67.2 683.9,47.5 697.9,26.9 713.7,3.1 715.4,3L715.4,3Z"/>
<path fill="#e57a70" d="M472.1,3L472.1,3 473.9,9.3 475.6,20.3 479.1,39 482.6,54.3 486.1,67.3 489.6,78.6 494.9,92.9 500.1,104.9 505.4,115 510.6,123.7 514.1,128.7 517.6,133.3 522.9,139.2 526.4,142.6 529.9,145.5 533.4,148.1 536.9,150.4 540.4,152.3 543.9,153.8 547.4,155.1 550.9,156 554.4,156.6 559.6,157 563.1,157 566.6,156.6 570.1,156 573.6,155.2 580.6,152.8 584.1,151.3 589.4,148.6 596.4,144.3 605.1,137.9 613.9,130.5 622.7,122.1 631.4,112.8 640.2,102.9 648.9,92.3 657.7,81.1 669.9,64.7 682.2,47.5 696.2,27 711.9,3.3 713.7,3L713.7,3Z"/>
<path fill="#e5796d" d="M475.6,3L475.6,3 477.4,4 480.9,26.3 484.4,44 487.9,58.6 491.4,71 494.9,81.7 500.1,95.4 503.6,103.2 508.9,113.3 514.1,121.9 517.6,126.9 521.1,131.3 526.4,137.1 529.9,140.3 533.4,143.2 536.9,145.6 540.4,147.7 543.9,149.5 547.4,150.9 550.9,151.9 554.4,152.7 557.9,153.2 561.4,153.3 564.9,153.2 568.4,152.8 571.9,152.2 575.4,151.3 582.4,148.9 589.4,145.5 596.4,141.3 605.1,135 613.9,127.6 622.7,119.3 631.4,110.1 640.2,100.2 648.9,89.6 657.7,78.5 669.9,62.1 682.2,44.9 696.2,24.5 710.2,3.5 711.9,3L711.9,3Z"/>
<path fill="#e5786b" d="M480.9,3L480.9,3 486.1,32.9 487.9,41.6 491.4,56.6 494.9,69.3 498.4,80.1 503.6,93.9 507.1,101.7 512.4,111.8 517.6,120.2 522.9,127.3 528.1,133.2 531.6,136.6 535.1,139.5 538.6,142 542.1,144.1 545.6,145.8 549.1,147.2 552.6,148.3 556.1,149 559.6,149.5 563.1,149.6 566.6,149.5 570.1,149 573.6,148.4 577.1,147.4 584.1,144.9 591.1,141.4 598.1,137.1 606.9,130.7 613.9,124.8 622.7,116.5 631.4,107.4 640.2,97.5 648.9,87 657.7,75.9 668.2,61.9 680.4,44.9 694.4,24.6 708.4,3.6 710.2,3L710.2,3Z"/>
<path fill="#e47769" d="M484.4,3L484.4,3 486.1,9.6 487.9,21 491.4,39.8 494.9,55.1 498.4,67.9 501.9,78.8 507.1,92.5 510.6,100.3 515.9,110.3 521.1,118.6 526.4,125.5 531.6,131.1 535.1,134.3 538.6,137.1 543.9,140.4 547.4,142.2 550.9,143.6 554.4,144.6 557.9,145.3 561.4,145.7 564.9,145.9 568.4,145.7 571.9,145.2 575.4,144.5 578.9,143.5 585.9,140.9 592.9,137.3 599.9,132.9 606.9,127.7 613.9,121.9 622.7,113.7 631.4,104.7 640.2,94.8 648.9,84.4 657.7,73.3 668.2,59.4 680.4,42.3 692.7,24.6 706.7,3.8 708.4,3L708.4,3Z"/>
<path fill="#e47567" d="M487.9,3L487.9,3 489.6,7.9 493.1,29.6 496.6,46.7 498.4,54 501.9,66.8 505.4,77.7 508.9,87.1 512.4,95.3 517.6,105.8 522.9,114.4 528.1,121.5 533.4,127.3 538.6,132 543.9,135.7 547.4,137.7 550.9,139.2 554.4,140.5 557.9,141.3 561.4,141.9 564.9,142.1 570.1,141.9 573.6,141.4 577.1,140.6 584.1,138.3 591.1,135.1 598.1,131 606.9,124.8 613.9,119 622.7,110.9 629.7,103.8 638.4,94.2 647.2,83.8 655.9,72.9 666.4,59.1 678.7,42.3 690.9,24.7 704.9,3.9 706.7,3L706.7,3Z"/>
<path fill="#e47465" d="M491.4,3L491.4,3 493.1,7 494.9,18.7 498.4,37.9 501.9,53.3 505.4,66.1 508.9,76.9 512.4,86.2 515.9,94.2 521.1,104.4 526.4,112.8 531.6,119.7 536.9,125.2 542.1,129.7 547.4,133.1 550.9,134.8 554.4,136.2 559.6,137.6 563.1,138.1 566.6,138.3 571.9,138 575.4,137.5 578.9,136.7 585.9,134.3 592.9,131 599.9,126.8 606.9,121.8 613.9,116.1 622.7,108.1 629.7,101 638.4,91.4 647.2,81.2 655.9,70.3 666.4,56.5 678.7,39.7 690.9,22.2 703.2,4 704.9,3L704.9,3Z"/>
<path fill="#e47363" d="M494.9,3L494.9,3 496.6,6.9 498.4,18.6 501.9,37.6 503.6,45.7 507.1,59.5 510.6,71.1 514.1,80.9 517.6,89.4 522.9,100 528.1,108.7 533.4,115.8 538.6,121.4 543.9,125.9 549.1,129.4 552.6,131.1 556.1,132.5 561.4,133.9 564.9,134.4 568.4,134.5 573.6,134.2 577.1,133.6 580.6,132.7 587.6,130.3 594.6,126.8 601.6,122.5 608.7,117.5 615.7,111.7 624.4,103.5 631.4,96.4 640.2,86.7 647.2,78.5 655.9,67.7 666.4,54 676.9,39.6 689.2,22.2 701.4,4.1 703.2,3L703.2,3Z"/>
<path fill="#e47262" d="M498.4,3L498.4,3 500.1,7.5 501.9,19 505.4,37.8 507.1,45.7 510.6,59.3 514.1,70.6 517.6,80.2 521.1,88.5 526.4,98.8 529.9,104.6 535.1,111.8 540.4,117.6 545.6,122.2 550.9,125.6 554.4,127.4 557.9,128.8 563.1,130.1 566.6,130.6 570.1,130.7 575.4,130.3 578.9,129.7 582.4,128.8 589.4,126.2 596.4,122.7 603.4,118.3 610.4,113.1 617.4,107.2 624.4,100.7 631.4,93.6 640.2,84 647.2,75.8 655.9,65 666.4,51.3 676.9,37 687.4,22.1 699.7,4.2 701.4,3L701.4,3Z"/>
<path fill="#e47060" d="M501.9,3L501.9,3 503.6,8.7 505.4,19.9 508.9,38.2 510.6,45.9 514.1,59.2 517.6,70.3 521.1,79.6 524.6,87.6 528.1,94.5 531.6,100.4 536.9,107.9 542.1,113.8 547.4,118.4 552.6,121.9 556.1,123.7 559.6,125 564.9,126.3 568.4,126.8 571.9,126.8 577.1,126.4 580.6,125.7 584.1,124.8 589.4,122.9 596.4,119.5 603.4,115.2 610.4,110.1 617.4,104.3 624.4,97.9 631.4,90.8 640.2,81.3 647.2,73.1 655.9,62.4 664.7,51.1 675.2,36.9 685.7,22.1 697.9,4.3 699.7,3L699.7,3Z"/>
<path fill="#e46f5e" d="M505.4,3L505.4,3 507.1,10.3 508.9,21.1 512.4,38.9 514.1,46.4 517.6,59.3 521.1,70 524.6,79 528.1,86.7 531.6,93.3 535.1,99 540.4,106.1 545.6,111.6 550.9,115.9 556.1,119.1 561.4,121.2 566.6,122.5 571.9,123 577.1,122.7 580.6,122.1 584.1,121.3 589.4,119.5 596.4,116.2 603.4,112.1 610.4,107.1 617.4,101.4 624.4,95 631.4,88 640.2,78.5 647.2,70.4 655.9,59.7 664.7,48.4 675.2,34.3 685.7,19.5 696.2,4.3 697.9,3L697.9,3Z"/>
<path fill="#e46e5c" d="M508.9,3L508.9,3 514.1,31.7 515.9,39.8 519.4,53.5 522.9,64.8 526.4,74.2 529.9,82.2 533.4,89.1 536.9,94.9 542.1,102.2 545.6,106.1 550.9,110.8 556.1,114.4 561.4,116.8 566.6,118.4 570.1,118.9 573.6,119.1 578.9,118.8 582.4,118.1 585.9,117.2 591.1,115.4 598.1,112 603.4,108.9 610.4,104 617.4,98.4 624.4,92.1 631.4,85.2 638.4,77.7 645.4,69.7 654.2,59.2 662.9,48.1 673.4,34.1 683.9,19.5 694.4,4.3 696.2,3L696.2,3Z"/>
<path fill="#e36d5b" d="M512.4,3L512.4,3 514.1,14.4 517.6,33 519.4,40.7 522.9,53.8 526.4,64.7 529.9,73.7 533.4,81.4 536.9,87.9 540.4,93.5 545.6,100.3 549.1,103.9 554.4,108.3 559.6,111.5 564.9,113.6 570.1,114.8 575.4,115.2 580.6,114.8 585.9,113.7 591.1,112 598.1,108.7 603.4,105.7 610.4,101 617.4,95.4 624.4,89.2 631.4,82.3 638.4,74.9 645.4,67 654.2,56.5 662.9,45.4 671.7,33.8 682.2,19.3 692.7,4.3 694.4,3L694.4,3Z"/>
<path fill="#e36c59" d="M514.1,3L514.1,3 515.9,5.8 517.6,16.6 521.1,34.3 522.9,41.6 526.4,54.2 528.1,59.6 531.6,69.1 535.1,77 538.6,83.7 542.1,89.4 547.4,96.3 550.9,100 556.1,104.5 561.4,107.6 566.6,109.7 571.9,110.9 577.1,111.2 582.4,110.8 587.6,109.6 592.9,107.8 599.9,104.5 605.1,101.4 612.2,96.5 617.4,92.4 624.4,86.2 631.4,79.4 638.4,72.1 645.4,64.2 652.4,55.9 661.2,45 669.9,33.5 680.4,19.2 690.9,4.3 692.7,3L692.7,3Z"/>
<path fill="#e36a57" d="M517.6,3L517.6,3 519.4,8.7 521.1,18.9 524.6,35.5 528.1,48.8 529.9,54.5 533.4,64.3 536.9,72.5 540.4,79.5 543.9,85.3 545.6,87.9 549.1,92.4 552.6,96.1 557.9,100.6 561.4,102.8 566.6,105.3 571.9,106.7 577.1,107.2 582.4,107 587.6,106 592.9,104.3 599.9,101.2 605.1,98.2 612.2,93.4 617.4,89.3 624.4,83.3 631.4,76.5 638.4,69.2 645.4,61.4 652.4,53.2 661.2,42.3 669.9,30.9 678.7,19 689.2,4.2 690.9,3L690.9,3Z"/>
<path fill="#e36956" d="M521.1,3L521.1,3 526.4,29.4 528.1,36.8 531.6,49.3 533.4,54.7 536.9,64 540.4,71.8 543.9,78.3 547.4,83.8 550.9,88.4 554.4,92.2 559.6,96.7 563.1,98.9 568.4,101.3 573.6,102.7 578.9,103.2 584.1,102.9 589.4,101.8 594.6,100.1 599.9,97.8 605.1,94.9 612.2,90.3 617.4,86.2 624.4,80.3 629.7,75.3 636.7,68.2 643.7,60.6 650.7,52.5 659.4,41.8 668.2,30.5 676.9,18.7 687.4,4.1 689.2,3L689.2,3Z"/>
<path fill="#e36854" d="M522.9,3L522.9,3 524.6,3.9 526.4,14.2 529.9,30.9 531.6,37.8 535.1,49.7 536.9,54.7 540.4,63.5 543.9,70.9 547.4,77 550.9,82.1 554.4,86.4 557.9,89.9 559.6,91.4 563.1,93.9 566.6,95.9 571.9,97.9 575.4,98.7 580.6,99.2 585.9,98.8 591.1,97.7 596.4,95.9 601.6,93.5 606.9,90.5 612.2,87.1 617.4,83.1 624.4,77.2 629.7,72.4 636.7,65.3 643.7,57.8 650.7,49.7 657.7,41.2 666.4,30.1 675.2,18.5 685.7,3.9 687.4,3L687.4,3Z"/>
<path fill="#e36753" d="M526.4,3L526.4,3 528.1,7.1 531.6,24.9 533.4,32.2 536.9,44.6 538.6,49.9 542.1,59 545.6,66.5 549.1,72.8 552.6,78 556.1,82.3 559.6,85.9 561.4,87.4 564.9,89.9 568.4,91.9 573.6,93.9 577.1,94.7 582.4,95.1 587.6,94.7 592.9,93.5 598.1,91.6 603.4,89.1 608.7,86.1 613.9,82.6 619.2,78.6 626.2,72.6 631.4,67.7 638.4,60.6 643.7,54.9 650.7,46.9 657.7,38.5 666.4,27.4 675.2,15.8 683.9,3.7 685.7,3L685.7,3Z"/>
<path fill="#e36751" d="M529.9,3L529.9,3 531.6,10 535.1,26.5 536.9,33.4 540.4,44.9 542.1,49.9 545.6,58.4 547.4,62.1 550.9,68.5 554.4,73.8 557.9,78.2 561.4,81.8 563.1,83.3 566.6,85.9 570.1,87.9 575.4,89.9 578.9,90.6 584.1,91 587.6,90.7 592.9,89.7 598.1,88 603.4,85.7 608.7,82.8 613.9,79.3 619.2,75.4 626.2,69.5 631.4,64.7 636.7,59.4 641.9,53.9 648.9,46.1 655.9,37.8 664.7,26.9 673.4,15.4 682.2,3.5 683.9,3L683.9,3Z"/>
<path fill="#e36650" d="M531.6,3L531.6,3 533.4,3.3 535.1,12.6 538.6,27.9 540.4,34.3 543.9,45.1 545.6,49.7 549.1,57.7 550.9,61.1 554.4,67.1 557.9,72 561.4,76 564.9,79.3 568.4,81.8 571.9,83.8 575.4,85.2 578.9,86.2 584.1,86.8 587.6,86.7 592.9,85.9 598.1,84.3 603.4,82.1 608.7,79.3 613.9,76 619.2,72.2 624.4,67.9 629.7,63.2 634.9,58.2 640.2,52.8 647.2,45.2 654.2,37.1 662.9,26.3 671.7,15 680.4,3.2 682.2,3L682.2,3Z"/>
<path fill="#e3664e" d="M535.1,3L535.1,3 536.9,6.2 540.4,22.3 542.1,29 545.6,40.2 547.4,45 550.9,53.2 552.6,56.7 556.1,62.8 559.6,67.8 563.1,71.8 566.6,75.1 570.1,77.7 573.6,79.7 577.1,81.1 580.6,82 585.9,82.6 589.4,82.5 594.6,81.6 599.9,80 605.1,77.7 610.4,74.9 615.7,71.5 620.9,67.6 626.2,63.2 631.4,58.5 638.4,51.6 643.7,46.1 650.7,38.3 662.9,23.5 678.7,3L678.7,3Z"/>
<path fill="#e4654d" d="M538.6,3L538.6,3 540.4,8.8 543.9,23.6 547.4,35.3 549.1,40.2 552.6,48.6 554.4,52.2 557.9,58.4 561.4,63.5 564.9,67.6 568.4,70.9 571.9,73.5 575.4,75.5 578.9,76.9 582.4,77.8 587.6,78.3 591.1,78.2 596.4,77.2 599.9,76.2 605.1,74.1 610.4,71.4 615.7,68.1 620.9,64.3 626.2,60 631.4,55.4 636.7,50.3 641.9,45 648.9,37.3 659.4,25 666.4,16.2 675.2,4.8 676.9,3L676.9,3Z"/>
<path fill="#e4644c" d="M542.1,3L542.1,3 545.6,18.1 547.4,24.5 550.9,35.3 552.6,39.9 556.1,47.7 557.9,51 561.4,56.7 563.1,59.2 566.6,63.4 570.1,66.7 573.6,69.3 577.1,71.3 580.6,72.7 584.1,73.6 589.4,74 592.9,73.8 598.1,72.9 601.6,71.8 606.9,69.6 610.4,67.8 615.7,64.6 620.9,60.9 626.2,56.8 631.4,52.2 636.7,47.2 647.2,36.3 659.4,22.1 673.4,4.3 675.2,3L675.2,3Z"/>
<path fill="#e4644a" d="M543.9,3L543.9,3 545.6,5 549.1,19.2 550.9,25.1 554.4,35.1 556.1,39.3 559.6,46.5 561.4,49.6 564.9,54.8 566.6,57.1 570.1,60.8 573.6,63.8 577.1,66.1 580.6,67.8 584.1,68.9 587.6,69.5 591.1,69.7 594.6,69.5 598.1,68.8 601.6,67.9 606.9,65.9 610.4,64.2 615.7,61.1 620.9,57.5 626.2,53.5 634.9,45.7 645.4,35.1 650.7,29.3 657.7,21.2 671.7,3.7 673.4,3L673.4,3Z"/>
<path fill="#e46349" d="M547.4,3L547.4,3 549.1,6.8 552.6,19.9 554.4,25.3 557.9,34.5 561.4,41.9 563.1,45 566.6,50.4 568.4,52.6 571.9,56.5 575.4,59.5 578.9,61.8 582.4,63.4 585.9,64.5 589.4,65.1 592.9,65.3 596.4,65 599.9,64.4 603.4,63.4 608.7,61.3 612.2,59.6 617.4,56.5 620.9,54.1 626.2,50.1 634.9,42.5 643.7,33.9 648.9,28.2 655.9,20.3 662.9,11.9 669.9,3.1 671.7,3L671.7,3Z"/>
<path fill="#e46347" d="M550.9,3L550.9,3 552.6,8.2 556.1,20.2 559.6,29.7 563.1,37.2 564.9,40.4 568.4,45.9 570.1,48.2 573.6,52 577.1,55.1 580.6,57.4 584.1,59 587.6,60.1 591.1,60.7 594.6,60.8 598.1,60.5 601.6,59.8 605.1,58.8 608.7,57.5 612.2,55.8 617.4,52.8 620.9,50.6 626.2,46.7 634.9,39.2 643.7,30.7 652.4,21.3 659.4,13.1 666.4,4.6 668.2,3L668.2,3Z"/>
<path fill="#e46246" d="M554.4,3L554.4,3 557.9,15 559.6,20.1 563.1,28.8 566.6,35.7 568.4,38.7 571.9,43.6 573.6,45.7 577.1,49.2 578.9,50.6 582.4,52.9 584.1,53.8 587.6,55.2 591.1,56 594.6,56.3 598.1,56.2 601.6,55.6 605.1,54.8 608.7,53.5 612.2,52 615.7,50.2 619.2,48.1 624.4,44.5 633.2,37.5 641.9,29.3 652.4,18.1 664.7,3.7 666.4,3L666.4,3Z"/>
<path fill="#e46245" d="M556.1,3L556.1,3 557.9,3.6 561.4,15 563.1,19.7 566.6,27.6 570.1,33.9 573.6,39 575.4,41.1 578.9,44.6 580.6,46 584.1,48.4 585.9,49.3 589.4,50.6 592.9,51.4 596.4,51.7 599.9,51.6 603.4,51 606.9,50.1 610.4,48.8 613.9,47.3 617.4,45.4 620.9,43.3 626.2,39.6 634.9,32.5 643.7,24.2 652.4,15 662.9,3L662.9,3Z"/>
<path fill="#e46145" d="M559.6,3L559.6,3 561.4,4.2 564.9,14.5 566.6,18.8 570.1,26.1 573.6,31.9 577.1,36.4 578.9,38.3 582.4,41.4 584.1,42.7 587.6,44.7 589.4,45.4 592.9,46.5 594.6,46.8 598.1,47.1 603.4,46.6 606.9,45.9 610.4,44.7 613.9,43.3 617.4,41.5 624.4,37.2 631.4,32 638.4,25.9 643.7,20.9 648.9,15.5 659.4,3.8 661.2,3L661.2,3Z"/>
<path fill="#e46144" d="M563.1,3L563.1,3 564.9,4.2 568.4,13.7 570.1,17.6 573.6,24.2 577.1,29.5 580.6,33.6 584.1,36.7 585.9,38 589.4,40 591.1,40.7 594.6,41.8 596.4,42.1 599.9,42.3 605.1,41.9 608.7,41.1 612.2,39.9 615.7,38.5 619.2,36.7 626.2,32.3 633.2,27 640.2,20.8 647.2,14 655.9,4.6 657.7,3L657.7,3Z"/>
<path fill="#e46143" d="M566.6,3L566.6,3 568.4,3.8 571.9,12.5 575.4,19.2 578.9,24.6 582.4,28.7 585.9,31.9 587.6,33.2 591.1,35.2 592.9,36 596.4,37 598.1,37.3 601.6,37.6 606.9,37.1 612.2,35.7 617.4,33.5 620.9,31.7 624.4,29.6 631.4,24.7 638.4,18.9 645.4,12.4 654.2,3.3 655.9,3L655.9,3Z"/>
<path fill="#e46042" d="M570.1,3L570.1,3 571.9,3 575.4,10.9 578.9,17 582.4,21.8 585.9,25.5 589.4,28.3 591.1,29.4 594.6,31.1 598.1,32.1 599.9,32.4 603.4,32.7 608.7,32.2 613.9,30.8 619.2,28.6 624.4,25.7 629.7,22.2 634.9,18.2 641.9,12.2 650.7,3.6 652.4,3L652.4,3Z"/>
<path fill="#e36042" d="M575.4,3L575.4,3 577.1,5.5 578.9,8.9 582.4,14.4 585.9,18.8 589.4,22 592.9,24.5 596.4,26.2 599.9,27.2 601.6,27.5 605.1,27.7 608.7,27.5 613.9,26.3 619.2,24.3 624.4,21.6 627.9,19.5 633.2,15.8 640.2,10.1 647.2,3.6 648.9,3L648.9,3Z"/>
<path fill="#e36041" d="M578.9,3L578.9,3 580.6,3.5 582.4,6.5 585.9,11.6 589.4,15.4 592.9,18.3 596.4,20.4 599.9,21.7 603.4,22.5 606.9,22.7 610.4,22.4 613.9,21.7 617.4,20.7 622.7,18.4 627.9,15.4 633.2,11.9 638.4,7.8 643.7,3.2 645.4,3L645.4,3Z"/>
<path fill="#e36040" d="M584.1,3L584.1,3 585.9,3.8 587.6,6.2 591.1,10.2 592.9,11.8 596.4,14.3 598.1,15.2 601.6,16.6 605.1,17.3 608.7,17.6 612.2,17.3 615.7,16.6 619.2,15.5 622.7,14 626.2,12.3 629.7,10.2 633.2,7.9 638.4,3.9 640.2,3L640.2,3Z"/>
<path fill="#e35f40" d="M591.1,3L591.1,3 594.6,6.4 596.4,7.8 599.9,9.9 601.6,10.7 605.1,11.8 606.9,12.1 610.4,12.3 615.7,11.7 620.9,10.2 626.2,7.9 629.7,6 633.2,3.7 634.9,3L634.9,3Z"/>
<path fill="#e35f3f" d="M598.1,3L598.1,3 599.9,3.6 601.6,4.6 605.1,6 608.7,6.8 612.2,7 615.7,6.7 619.2,6 622.7,4.9 626.2,3.4 627.9,3L627.9,3Z"/>
</g>
<path fill="none" stroke="#1c1c1c" stroke-width="1.9" d="M192.5,408.4 195.1,408.4 197.6,408.4 200.2,408.4 202.8,408.4 205.4,408.4M219.3,408.5 221.9,408.5 224.4,408.5 227,408.5 229.6,408.5 232.2,408.5M246.1,408.5 248.7,408.6 251.2,408.6 253.8,408.6 256.4,408.6 259,408.6M272.9,408.7 275.5,408.7 278,408.7 280.6,408.7 283.2,408.7 285.8,408.8M299.7,408.9 302.3,408.9 304.8,408.9 307.4,409 310,409 312.6,409M326.5,409.2 329.1,409.3 331.6,409.3 334.2,409.4 336.8,409.4 339.4,409.5M353.3,409.8 355.9,409.9 358.4,409.9 361,410 363.6,410.1 366.1,410.1M380.1,410.6 382.6,410.7 385.2,410.8 387.8,410.9 390.3,411 392.9,411.1M406.8,411.8 409.4,411.9 412,412.1 414.5,412.2 417.1,412.3 419.7,412.5M433.6,413.2 436.1,413.4 438.7,413.5 441.3,413.7 443.8,413.8 446.4,413.9M460.3,414.6 462.9,414.6 465.4,414.7 468,414.8 470.6,414.8 473.2,414.9M487.1,414.7 489.7,414.6 492.2,414.5 494.8,414.3 497.4,414.1 499.9,413.9M513.6,412 516.1,411.5 518.6,411 521.1,410.4 523.5,409.8 526,409.1M538.8,404.8 541,403.8 543.3,402.9 545.5,401.8 547.7,400.8 549.9,399.7M561.2,393.3 563.2,392 565.2,390.7 567.1,389.4 569,388.1 570.9,386.7M580.8,379 582.6,377.5 584.3,376 586,374.5 587.8,373 589.4,371.4M598.3,363 599.9,361.4 601.4,359.8 603,358.1 604.5,356.5 606.1,354.9M614.2,346 615.6,344.3 617.1,342.6 618.5,340.9 619.9,339.3 621.4,337.6M628.9,328.4 630.3,326.6 631.7,324.9 633,323.2 634.4,321.5 635.7,319.8M642.9,310.4 644.2,308.6 645.5,306.9 646.8,305.1 648.1,303.4 649.4,301.6M656.3,292.1 657.6,290.3 658.8,288.5 660.1,286.8 661.3,285 662.6,283.2M669.3,273.6 670.5,271.8 671.7,270.1 672.9,268.3 674.2,266.5 675.4,264.7M681.9,255 683.1,253.2 684.3,251.4 685.5,249.6 686.7,247.8 687.9,246M694.3,236.3 695.5,234.5 696.7,232.7 697.8,230.9 699,229.1 700.2,227.3M706.5,217.5 707.7,215.7 708.8,213.9 710,212.1 711.2,210.3 712.3,208.5M718.6,198.7 719.7,196.9 720.9,195 722,193.2 723.2,191.4 724.3,189.6M730.5,179.8 731.6,178 732.8,176.2 733.9,174.3 735.1,172.5 736.2,170.7M742.4,160.9 743.5,159 744.6,157.2 745.8,155.4 746.9,153.6 748,151.8M754.1,141.9 755.3,140.1 756.4,138.3 757.5,136.4 758.6,134.6 759.8,132.8M765.9,122.9 767,121.1 768.1,119.3 769.2,117.5 770.4,115.6 771.5,113.8M777.5,103.9 778.7,102.1 779.8,100.3 780.9,98.5 782,96.6 783.1,94.8M789.2,84.9 790.3,83.1 791.4,81.3 792.5,79.5 793.7,77.6 794.8,75.8M800.8,65.9 801.9,64.1 803,62.3 804.2,60.4 805.3,58.6 806.4,56.8M812.4,46.9 813.5,45.1 814.6,43.3 815.7,41.4 816.9,39.6 818,37.8M824,27.9 825.1,26 826.2,24.2 827.3,22.4 828.4,20.6 829.5,18.7M192.5,327.7 192.9,327.7 193.4,327.7 193.8,327.7 194.2,327.7 194.6,327.7M208.6,327.7 211.2,327.7 213.7,327.7 216.3,327.7 218.9,327.8 221.4,327.8M235.4,327.8 238,327.8 240.5,327.9 243.1,327.9 245.7,327.9 248.2,327.9M262.2,328 264.8,328 267.3,328.1 269.9,328.1 272.5,328.1 275,328.1M289,328.3 291.5,328.4 294.1,328.4 296.7,328.4 299.3,328.5 301.8,328.5M315.8,328.8 318.3,328.9 320.9,328.9 323.5,329 326.1,329.1 328.6,329.1M342.5,329.6 345.1,329.7 347.7,329.8 350.3,329.9 352.8,330 355.4,330.1M369.3,330.9 371.9,331 374.4,331.2 377,331.3 379.6,331.5 382.1,331.7M396,332.7 398.6,332.9 401.1,333.1 403.7,333.4 406.2,333.6 408.8,333.9M422.6,335.3 425.1,335.5 427.7,335.8 430.2,336.1 432.8,336.4 435.3,336.7M449.1,338.3 451.7,338.6 454.2,338.9 456.8,339.2 459.3,339.5 461.9,339.7M475.7,341 478.3,341.2 480.8,341.4 483.4,341.6 485.9,341.7 488.5,341.8M502.4,341.8 505,341.7 507.6,341.6 510.1,341.4 512.7,341.1 515.2,340.8M528.8,338.4 531.3,337.8 533.7,337.1 536.1,336.4 538.5,335.6 540.8,334.8M553.1,329.6 555.3,328.5 557.4,327.4 559.5,326.2 561.6,325 563.7,323.8M574.3,316.8 576.2,315.4 578,314 579.9,312.6 581.7,311.1 583.5,309.7M592.8,301.5 594.5,300 596.1,298.4 597.8,296.9 599.4,295.3 601,293.7M609.4,285 610.9,283.3 612.4,281.7 613.9,280 615.4,278.4 616.9,276.7M624.7,267.6 626.1,265.9 627.5,264.2 628.9,262.5 630.3,260.8 631.7,259.1M639,249.8 640.3,248 641.7,246.3 643,244.6 644.3,242.8 645.6,241.1M652.6,231.6 653.9,229.9 655.2,228.1 656.5,226.3 657.7,224.6 659,222.8M665.8,213.2 667,211.5 668.3,209.7 669.5,207.9 670.7,206.1 672,204.3M678.6,194.7 679.8,192.9 681,191.1 682.2,189.3 683.4,187.5 684.6,185.7M691.1,176 692.2,174.2 693.4,172.4 694.6,170.6 695.8,168.8 697,167M703.3,157.3 704.5,155.5 705.7,153.7 706.8,151.8 708,150 709.2,148.2M715.5,138.4 716.6,136.6 717.8,134.8 718.9,133 720.1,131.2 721.2,129.4M727.4,119.6 728.6,117.8 729.7,115.9 730.9,114.1 732,112.3 733.2,110.5M739.3,100.7 740.5,98.8 741.6,97 742.7,95.2 743.9,93.4 745,91.6M751.1,81.7 752.3,79.9 753.4,78.1 754.5,76.3 755.7,74.4 756.8,72.6M762.9,62.8 764,60.9 765.1,59.1 766.3,57.3 767.4,55.5 768.5,53.6M774.6,43.8 775.7,41.9 776.8,40.1 777.9,38.3 779.1,36.5 780.2,34.7M786.2,24.8 787.4,22.9 788.5,21.1 789.6,19.3 790.7,17.5 791.8,15.6M198.4,262.6 201,262.6 203.5,262.6 206.1,262.7 208.7,262.7 211.3,262.7M225.2,262.8 227.8,262.8 230.3,262.8 232.9,262.8 235.5,262.9 238.1,262.9M252,263.1 254.6,263.1 257.1,263.1 259.7,263.2 262.3,263.2 264.9,263.2M278.8,263.5 281.4,263.6 283.9,263.6 286.5,263.7 289.1,263.7 291.6,263.8M305.6,264.2 308.1,264.3 310.7,264.4 313.3,264.5 315.8,264.6 318.4,264.7M332.3,265.4 334.9,265.6 337.5,265.7 340,265.9 342.6,266 345.2,266.2M359,267.3 361.6,267.5 364.1,267.8 366.7,268 369.2,268.3 371.8,268.5M385.6,270.2 388.1,270.5 390.6,270.8 393.2,271.2 395.7,271.6 398.2,271.9M411.9,274.2 414.4,274.7 416.9,275.1 419.4,275.6 421.9,276.1 424.4,276.6M437.8,279.4 440.3,279.9 442.8,280.5 445.3,281 447.7,281.6 450.2,282.1M463.6,285.1 466.1,285.7 468.6,286.2 471.1,286.7 473.6,287.2 476.1,287.7M489.7,290.1 492.2,290.4 494.7,290.8 497.3,291 499.8,291.3 502.4,291.5M516.3,291.8 518.9,291.7 521.5,291.5 524,291.3 526.6,291 529.1,290.7M542.5,287.7 544.9,286.9 547.2,286.1 549.6,285.3 551.9,284.4 554.2,283.4M565.9,277.5 568,276.3 570,275.1 572,273.8 574,272.5 575.9,271.2M586,263.6 587.8,262.2 589.6,260.7 591.3,259.2 593,257.7 594.7,256.2M603.7,247.8 605.3,246.2 606.8,244.6 608.4,243 610,241.4 611.5,239.7M619.6,230.8 621.1,229.1 622.5,227.5 624,225.8 625.4,224.1 626.8,222.4M634.4,213.2 635.8,211.5 637.1,209.8 638.5,208.1 639.8,206.3 641.2,204.6M648.4,195.2 649.7,193.5 651,191.7 652.3,190 653.6,188.2 654.9,186.5M661.8,176.9 663,175.2 664.3,173.4 665.5,171.6 666.8,169.9 668,168.1M674.7,158.5 675.9,156.7 677.1,154.9 678.4,153.1 679.6,151.3 680.8,149.5M687.3,139.8 688.5,138.1 689.7,136.3 690.9,134.5 692.1,132.7 693.3,130.9M699.7,121.1 700.9,119.3 702.1,117.5 703.2,115.7 704.4,113.9 705.6,112.1M711.9,102.3 713.1,100.5 714.2,98.7 715.4,96.9 716.5,95.1 717.7,93.3M723.9,83.5 725.1,81.7 726.2,79.9 727.4,78.1 728.5,76.2 729.7,74.4M735.9,64.6 737,62.8 738.2,61 739.3,59.2 740.4,57.3 741.6,55.5M747.7,45.7 748.9,43.9 750,42 751.1,40.2 752.2,38.4 753.4,36.6M759.5,26.7 760.6,24.9 761.7,23.1 762.9,21.3 764,19.4 765.1,17.6M192.5,188.5 194,188.6 195.5,188.6 197,188.6 198.5,188.6 200,188.6M213.9,188.8 216.5,188.8 219.1,188.8 221.7,188.9 224.2,188.9 226.8,189M240.7,189.2 243.3,189.3 245.9,189.4 248.4,189.4 251,189.5 253.6,189.6M267.5,190 270.1,190.1 272.7,190.2 275.2,190.3 277.8,190.4 280.4,190.5M294.3,191.3 296.8,191.4 299.4,191.6 302,191.8 304.5,191.9 307.1,192.1M320.9,193.3 323.5,193.6 326,193.8 328.6,194.1 331.1,194.4 333.7,194.7M347.4,196.5 349.9,196.9 352.5,197.3 355,197.7 357.5,198.2 360,198.6M373.5,201.4 376,201.9 378.4,202.5 380.9,203.1 383.3,203.7 385.8,204.3M398.9,208.1 401.3,208.8 403.7,209.6 406.1,210.3 408.4,211.1 410.8,211.9M423.4,216.6 425.7,217.5 428,218.4 430.3,219.3 432.6,220.2 434.9,221.1M447.2,226.3 449.5,227.3 451.7,228.2 454,229.2 456.2,230.2 458.5,231.1M470.8,236.3 473.1,237.2 475.4,238.2 477.7,239.1 480,239.9 482.3,240.8M495.1,245.1 497.5,245.8 500,246.5 502.4,247.1 504.9,247.7 507.4,248.2M521.1,250 523.7,250.2 526.2,250.2 528.8,250.2 531.4,250.1 533.9,250M547.5,247.7 550,247 552.4,246.3 554.8,245.5 557.1,244.7 559.4,243.8M571.2,238 573.3,236.8 575.4,235.6 577.4,234.3 579.3,233 581.3,231.7M591.4,224.1 593.1,222.7 594.9,221.2 596.6,219.7 598.3,218.2 600,216.6M608.9,208.2 610.5,206.6 612,205 613.6,203.4 615.1,201.7 616.7,200.1M624.7,191.2 626.2,189.5 627.6,187.8 629,186.1 630.5,184.4 631.9,182.7M639.4,173.5 640.8,171.8 642.1,170.1 643.5,168.3 644.8,166.6 646.2,164.9M653.3,155.5 654.6,153.7 655.9,152 657.2,150.2 658.5,148.5 659.7,146.7M666.6,137.1 667.9,135.4 669.1,133.6 670.4,131.8 671.6,130.1 672.8,128.3M679.5,118.6 680.7,116.9 681.9,115.1 683.2,113.3 684.4,111.5 685.6,109.7M692.1,100 693.3,98.2 694.5,96.4 695.7,94.6 696.8,92.8 698,91M704.4,81.3 705.6,79.5 706.8,77.7 708,75.9 709.1,74.1 710.3,72.3M716.6,62.5 717.8,60.7 718.9,58.9 720.1,57.1 721.2,55.3 722.4,53.4M728.6,43.6 729.8,41.8 730.9,40 732.1,38.2 733.2,36.4 734.4,34.6M740.5,24.7 741.7,22.9 742.8,21.1 744,19.3 745.1,17.5 746.2,15.7M192.5,28.8 193.7,28.9 195,29 196.2,29.1 197.4,29.1 198.6,29.2M212.5,30.2 215.1,30.4 217.6,30.6 220.2,30.8 222.8,31 225.3,31.3M239.1,32.8 241.6,33.2 244.2,33.5 246.7,33.9 249.2,34.2 251.8,34.6M265.4,37.1 267.8,37.6 270.3,38.1 272.8,38.7 275.3,39.2 277.7,39.8M290.9,43.5 293.3,44.2 295.7,45 298,45.8 300.4,46.6 302.7,47.4M315.2,52.4 317.4,53.3 319.6,54.4 321.8,55.4 324,56.4 326.2,57.5M337.7,63.7 339.8,64.9 341.8,66.1 343.9,67.4 345.9,68.6 347.9,69.9M358.5,77.1 360.4,78.4 362.2,79.8 364.1,81.2 366,82.6 367.8,84M377.6,91.8 379.4,93.3 381.1,94.8 382.9,96.3 384.6,97.8 386.3,99.3M395.5,107.5 397.2,109.1 398.8,110.6 400.5,112.2 402.1,113.7 403.8,115.3M412.6,123.8 414.2,125.3 415.8,126.9 417.5,128.5 419.1,130.1 420.7,131.7M429.3,140.2 430.9,141.8 432.6,143.4 434.2,145 435.8,146.6 437.4,148.2M446.1,156.7 447.7,158.3 449.4,159.8 451,161.4 452.7,163 454.3,164.5M463.4,172.8 465.1,174.3 466.8,175.8 468.6,177.3 470.3,178.8 472.1,180.3M481.9,188.1 483.7,189.5 485.6,190.9 487.5,192.2 489.5,193.6 491.4,194.9M502.5,201.6 504.6,202.7 506.8,203.8 509,204.8 511.2,205.8 513.5,206.7M526.5,210.7 529,211.2 531.5,211.6 534,211.9 536.6,212.1 539.2,212.2M553,211.1 555.5,210.6 557.9,210 560.4,209.3 562.7,208.5 565.1,207.7M577.1,202.1 579.2,200.9 581.2,199.7 583.2,198.4 585.2,197.2 587.2,195.8M597.2,188.2 599,186.8 600.7,185.3 602.5,183.8 604.2,182.3 605.9,180.7M614.7,172.2 616.2,170.6 617.8,169 619.3,167.4 620.9,165.8 622.4,164.1M630.4,155.1 631.8,153.5 633.2,151.8 634.7,150.1 636.1,148.4 637.5,146.7M644.9,137.4 646.3,135.7 647.7,134 649,132.3 650.3,130.5 651.7,128.8M658.7,119.3 660,117.6 661.3,115.8 662.6,114.1 663.9,112.3 665.2,110.6M672,101 673.2,99.2 674.5,97.5 675.7,95.7 677,93.9 678.2,92.1M684.8,82.5 686.1,80.7 687.3,78.9 688.5,77.1 689.7,75.3 690.9,73.6M697.4,63.8 698.6,62 699.8,60.3 700.9,58.5 702.1,56.7 703.3,54.9M709.7,45.1 710.9,43.3 712,41.5 713.2,39.7 714.4,37.9 715.5,36.1M721.8,26.3 723,24.5 724.2,22.7 725.3,20.9 726.5,19.1 727.6,17.2M449.5,15.2 449.7,16.4 449.9,17.5 450.1,18.7 450.3,19.9 450.6,21M452.8,31.9 453.3,33.9 453.7,35.8 454.2,37.8 454.7,39.8 455.2,41.8M457.9,52.6 458.5,54.6 459,56.5 459.6,58.5 460.2,60.5 460.8,62.5M464.2,73.1 464.8,75.1 465.5,77 466.2,79 466.9,80.9 467.6,82.9M471.7,93.3 472.5,95.3 473.3,97.2 474.1,99.1 475,101 475.9,102.9M480.8,113.2 481.8,115.1 482.8,116.9 483.8,118.8 484.8,120.6 485.9,122.5M492,132.4 493.1,134.2 494.4,135.9 495.6,137.7 496.9,139.5 498.2,141.2M505.8,150.4 507.3,152 508.9,153.7 510.5,155.2 512.1,156.8 513.8,158.3M523.8,166 525.8,167.3 527.8,168.5 530,169.6 532.2,170.6 534.4,171.6M547.6,175.1 550.1,175.4 552.7,175.5 555.3,175.5 557.8,175.3 560.4,175.1M573.6,171.8 575.9,170.9 578.2,169.9 580.4,168.9 582.6,167.8 584.7,166.7M595.6,159.8 597.5,158.5 599.4,157.1 601.2,155.6 603,154.2 604.8,152.7M614,144.5 615.6,142.9 617.2,141.4 618.8,139.8 620.4,138.2 622,136.6M630.2,127.7 631.7,126.1 633.2,124.4 634.6,122.7 636.1,121.1 637.5,119.4M645.1,110.2 646.5,108.5 647.9,106.8 649.2,105 650.6,103.3 651.9,101.6M659.1,92.2 660.4,90.5 661.7,88.7 663,87 664.3,85.2 665.6,83.5M672.5,73.9 673.8,72.2 675,70.4 676.3,68.6 677.5,66.8 678.8,65.1M685.5,55.4 686.7,53.7 687.9,51.9 689.1,50.1 690.3,48.3 691.5,46.5M698.1,36.8 699.3,35 700.5,33.2 701.7,31.4 702.8,29.7 704,27.9M710.4,18.1 710.8,17.5 711.2,16.9 711.6,16.3 712,15.7 712.4,15.1M494.3,15.4 494.5,16.6 494.7,17.8 494.9,19 495.1,20.1 495.3,21.3M497.2,32.2 497.6,34.2 498,36.2 498.4,38.2 498.8,40.2 499.3,42.2M501.8,53 502.3,55 502.8,56.9 503.3,58.9 503.9,60.9 504.4,62.9M507.7,73.5 508.4,75.5 509.1,77.4 509.8,79.4 510.5,81.3 511.2,83.3M515.6,93.7 516.5,95.6 517.4,97.5 518.4,99.4 519.4,101.2 520.4,103.1M526.5,113 527.7,114.7 529,116.5 530.4,118.2 531.8,119.9 533.3,121.6M542.4,129.8 544.3,131.2 546.3,132.4 548.4,133.6 550.6,134.7 552.9,135.7M566.3,138.3 568.8,138.3 571.4,138.1 573.9,137.8 576.4,137.3 578.9,136.7M591.3,131.8 593.5,130.7 595.6,129.5 597.6,128.3 599.6,127 601.6,125.7M611.6,118.1 613.3,116.6 615.1,115.1 616.8,113.6 618.5,112 620.1,110.5M628.8,101.9 630.3,100.3 631.9,98.6 633.4,97 634.9,95.4 636.4,93.7M644.3,84.7 645.7,83 647.1,81.3 648.5,79.6 649.9,77.9 651.3,76.2M658.6,66.8 659.9,65.1 661.3,63.4 662.6,61.6 663.9,59.9 665.2,58.2M672.2,48.7 673.5,46.9 674.8,45.2 676,43.4 677.3,41.6 678.6,39.9M685.3,30.3 686.6,28.5 687.8,26.7 689,24.9 690.2,23.1 691.5,21.4M526.6,15.3 526.8,16.5 527,17.6 527.3,18.8 527.5,20 527.7,21.1M530.1,32 530.6,33.9 531.1,35.9 531.6,37.9 532.2,39.9 532.7,41.9M536.1,52.5 536.8,54.5 537.5,56.4 538.2,58.4 539,60.3 539.8,62.2M544.7,72.5 545.8,74.3 546.9,76.2 548,78 549.2,79.8 550.5,81.5M558.5,90.4 560.3,91.9 562.2,93.3 564.2,94.6 566.3,95.7 568.5,96.8M582,99.2 584.5,99 587,98.6 589.5,98.1 592,97.4 594.3,96.7M606.2,90.9 608.2,89.7 610.2,88.4 612.1,87.1 614,85.7 615.9,84.3M625.4,76.3 627.1,74.8 628.8,73.2 630.4,71.7 632,70.1 633.6,68.5M641.9,59.7 643.4,58 644.9,56.4 646.4,54.7 647.8,53 649.3,51.4M656.9,42.2 658.3,40.5 659.6,38.8 661,37 662.4,35.3 663.7,33.6M670.9,24.2 672.2,22.5 673.5,20.7 674.8,19 676.1,17.2 677.4,15.5M557.9,15 558.3,16.2 558.6,17.3 559,18.5 559.4,19.6 559.9,20.7M564.2,31.1 565.2,33 566.2,34.9 567.2,36.7 568.3,38.6 569.5,40.4M577.4,49.4 579.2,50.8 581.1,52.2 583.2,53.4 585.4,54.4 587.8,55.2M601.5,55.7 604,55.1 606.4,54.4 608.7,53.5 610.9,52.6 613.1,51.5M624.1,44.7 626,43.3 627.8,41.9 629.6,40.5 631.4,39 633.1,37.5M642.1,29.1 643.6,27.5 645.2,25.9 646.8,24.3 648.3,22.7 649.8,21"/>
<path d="M285.7,514C285.8,510 286,502.3 286.5,490C287,477.7 287.6,453.5 288.8,440C290,426.5 292.3,419 293.9,409C295.5,399 297,388.8 298.6,380C300.2,371.2 302,362.9 303.7,356.2C305.4,349.5 307,345.2 308.7,340C310.4,334.8 312,329.6 313.7,325C315.4,320.4 316.8,316.7 318.7,312.5C320.6,308.3 323,303.4 324.9,300C326.8,296.6 327.9,295.7 330,292.4C332.1,289.1 334.8,284.6 337.5,280C340.2,275.4 343.3,269.8 346.2,265C349.1,260.2 351.8,255.8 354.9,251.2C358,246.6 361.5,241.8 364.9,237.5C368.3,233.2 371.3,229.6 375.5,225.5C379.7,221.4 385.3,216.8 390,213C394.7,209.2 399.3,205.8 403.7,202.4C408.1,199 412,195.6 416.2,192.4C420.4,189.2 424.5,186.1 428.7,183.1C432.9,180.1 437,177.1 441.2,174.3C445.4,171.5 449.5,168.8 453.7,166.2C457.9,163.6 462,161.2 466.1,158.9C470.2,156.6 474.3,154.6 478.6,152.6C482.9,150.6 486.8,149.1 492,147.2C497.2,145.3 504.9,142.7 510,141.2C515.1,139.7 518.2,139 522.4,138.1C526.5,137.2 530.7,136.4 534.9,135.6C539.1,134.8 543.2,134.1 547.4,133.4C551.6,132.7 555.8,132.2 560,131.6C564.2,131 567.2,130.5 572.5,130C577.8,129.5 583.7,129.1 592,128.8C600.3,128.5 613.2,128.2 622.4,128.2C631.6,128.1 640.5,128.4 647.4,128.5C654.3,128.6 661.2,128.9 664,129Q670,129.3 670.6,124.5L672.3,30.5 Q672.5,24 677.3,27.8L864.6,203.4L698.5,369.6 Q693.2,374.6 689.6,367L686.2,300 L683.7,272.5C682.7,271.7 680.2,269.4 677.5,267.5C674.8,265.6 671.2,263.4 667.5,261.2C663.8,259 659.2,256.5 655,254.4C650.8,252.3 647,250.2 642.5,248.4C638,246.6 632.6,244.7 628,243.3C623.4,241.9 619.2,240.8 614.9,239.9C610.6,239 606.5,238.6 602.4,238.1C598.2,237.6 593.5,237.4 590,237.2C586.5,236.9 586.2,236.1 581.2,236.6C576.2,237.1 566.9,238.4 560,240C553.1,241.6 545.3,244.6 539.9,246.2C534.5,247.8 531.6,248.2 527.4,249.3C523.2,250.5 519.1,251.6 514.9,253.1C510.7,254.6 506.5,256.1 502.4,258.1C498.2,260.1 494.1,262.4 490,265C485.9,267.6 481.7,270.4 477.5,273.7C473.3,277 469.4,280.5 465,284.9C460.6,289.3 455.6,295.2 451,300C446.4,304.8 441.5,309.3 437.4,313.7C433.3,318.1 429.7,322.2 426.2,326.2C422.7,330.2 419.5,333.8 416.2,337.5C412.9,341.2 411.2,342.3 406.2,348.7C401.2,355.1 390.6,369.3 386,376C381.4,382.7 382.9,382.1 378.5,389C374.1,395.9 365.6,408.9 359.4,417.7C353.1,426.4 346.4,434.2 341,441.5C335.6,448.8 331.1,454.8 326.9,461.2C322.7,467.6 319.2,473.8 315.7,480C312.2,486.2 308.9,492.7 305.7,498.7C302.5,504.7 298,513.1 296.5,516Q292,524.5 287.5,521 Q285.6,519 285.7,514Z" fill="#6c83b0" fill-opacity="0.345"/>
</g>
<path fill="none" stroke="#111" stroke-width="1.2" d="M227.1,585.5 v-6 M247.4,585.5 v-6 M261.8,585.5 v-6 M272.9,585.5 v-6 M282.1,585.5 v-6 M289.8,585.5 v-6 M296.4,585.5 v-6 M302.3,585.5 v-6 M307.6,585.5 v-9 M342.2,585.5 v-6 M362.5,585.5 v-6 M376.9,585.5 v-6 M388,585.5 v-6 M397.1,585.5 v-6 M404.8,585.5 v-6 M411.5,585.5 v-6 M417.4,585.5 v-6 M422.7,585.5 v-9 M457.3,585.5 v-6 M477.6,585.5 v-6 M492,585.5 v-6 M503.1,585.5 v-6 M512.2,585.5 v-6 M519.9,585.5 v-6 M526.6,585.5 v-6 M532.5,585.5 v-6 M537.8,585.5 v-9 M572.4,585.5 v-6 M592.7,585.5 v-6 M607,585.5 v-6 M618.2,585.5 v-6 M627.3,585.5 v-6 M635,585.5 v-6 M641.7,585.5 v-6 M647.6,585.5 v-6 M652.8,585.5 v-9 M687.5,585.5 v-6 M707.7,585.5 v-6 M722.1,585.5 v-6 M733.3,585.5 v-6 M742.4,585.5 v-6 M750.1,585.5 v-6 M756.8,585.5 v-6 M762.7,585.5 v-6 M767.9,585.5 v-9 M802.6,585.5 v-6 M822.8,585.5 v-6 M837.2,585.5 v-6 M848.4,585.5 v-6 M857.5,585.5 v-6 M865.2,585.5 v-6 M871.8,585.5 v-6 M877.7,585.5 v-6"/><path fill="none" stroke="#111" stroke-width="1.5" d="M192.5,205.2 h6.3 M192.5,147.9 h4.6 M192.5,114.4 h4.6 M192.5,90.7 h4.6 M192.5,72.2 h4.6 M192.5,57.2 h4.6 M192.5,44.5 h4.6 M192.5,33.4 h4.6 M192.5,23.7 h4.6 M192.5,395.3 h6.3 M192.5,338.1 h4.6 M192.5,304.6 h4.6 M192.5,280.8 h4.6 M192.5,262.4 h4.6 M192.5,247.4 h4.6 M192.5,234.6 h4.6 M192.5,223.6 h4.6 M192.5,213.9 h4.6 M192.5,528.3 h4.6 M192.5,494.8 h4.6 M192.5,471 h4.6 M192.5,452.6 h4.6 M192.5,437.5 h4.6 M192.5,424.8 h4.6 M192.5,413.8 h4.6 M192.5,404 h4.6"/>
<rect x="192.5" y="15" width="690.5" height="570.5" fill="none" stroke="#000" stroke-width="2.1"/>
<rect x="911" y="36.6" width="26" height="524" fill="url(#cbg)"/>
<path d="M911,560.6 V36.6 H937" fill="none" stroke="#9a9a9a" stroke-width="1"/>
<path d="M937,36.2 V561" fill="none" stroke="#111" stroke-width="1.3"/>
<path d="M937,36.6h5.5M937,89h3.6M937,141.4h5.5M937,193.8h3.6M937,246.2h5.5M937,298.6h3.6M937,351h5.5M937,403.4h3.6M937,455.8h5.5M937,508.2h3.6M937,560.6h5.5" fill="none" stroke="#111" stroke-width="1.5"/>

<path d="M795,204.7H899M865.1,173V339" fill="none" stroke="#4ca0e0" stroke-width="2.2"/>
<g fill="none" stroke="#303030" stroke-linecap="butt" stroke-linejoin="miter">
<path d="M303.3,465 L376.7,347.3" stroke-width="3.8"/>
<path d="M376.7,347.3 L445.4,237.2" stroke-width="3.8"/>
<path d="M424.8,253.8 L446.2,236.2 L440.2,263.8" stroke-width="3.5"/>
<path d="M455,223.1 L555,222.4" stroke-width="3.4"/>
<path d="M555,220.9 L638,220.7" stroke-width="3.8"/>
<path d="M612.6,212.2 L639.9,220.7 L612.6,229.4" stroke-width="3.6"/>
<path d="M656.7,219.8 L750,214.2" stroke-width="3.6"/>
<path d="M750,214.8 L847,208.5" stroke-width="3.8"/>
<path d="M821,200.8 L849.4,208.3 L821.6,219.4" stroke-width="3.4"/>
</g>
<g fill="none" stroke="#303030">
<path d="M584,98.6 L596.5,99.6" stroke-width="2.6"/>
<path d="M594.5,98.6 L599.5,96.8 L598,102.6Z" fill="#303030" stroke="none"/>
<path d="M599.2,103 C611,113.5 621.5,125.5 629.5,138 C639.5,154 646,176 650.6,199" stroke-width="3.7" stroke-dasharray="3.9 5.7"/>
<path d="M564.6,112 C567.5,128 577,147 590,164.5 C603,182 621,197.5 641,211.5" stroke-width="3.7" stroke-dasharray="3.9 5.7"/>
<path d="M639.3,179.6 L651.5,205.2 L656,177" stroke-width="3.5"/>
</g>
<circle cx="303.2" cy="465" r="14.6" fill="#fff" stroke="#13263a" stroke-width="2.7"/>
<circle cx="455.5" cy="221.5" r="14.6" fill="#fff" stroke="#13263a" stroke-width="2.7"/>
<circle cx="656.7" cy="220.8" r="14.6" fill="#fff" stroke="#13263a" stroke-width="2.7"/>
<circle cx="570.2" cy="95" r="14.6" fill="#fff" stroke="#13263a" stroke-width="2.7"/>
<circle cx="376.2" cy="343.7" r="27.2" fill="#fff" stroke="#111" stroke-width="1.5"/>
<circle cx="555.3" cy="220.5" r="27.2" fill="#fff" stroke="#111" stroke-width="1.5"/>
<circle cx="750.5" cy="213" r="27.2" fill="#fff" stroke="#111" stroke-width="1.5"/>
<circle cx="865.2" cy="204.4" r="14.6" fill="#fff" stroke="#4ca0e0" stroke-width="2.6"/>
</svg>
<div class="t" style="left:166.0px;top:610.7px;font-size:32px;">10<span style="font-size:19px;position:relative;top:-10px">-3</span></div>
<div class="t" style="left:282.0px;top:610.7px;font-size:32px;">10<span style="font-size:19px;position:relative;top:-10px">-2</span></div>
<div class="t" style="left:395.9px;top:610.7px;font-size:32px;">10<span style="font-size:19px;position:relative;top:-10px">-1</span></div>
<div class="t" style="left:526.3px;top:610.7px;font-size:32px;">1</div>
<div class="t" style="left:633.0px;top:610.7px;font-size:32px;">10</div>
<div class="t" style="left:745.0px;top:610.7px;font-size:32px;">10<span style="font-size:19px;position:relative;top:-10px">2</span></div>
<div class="t" style="left:858.3px;top:610.7px;font-size:32px;">10<span style="font-size:19px;position:relative;top:-10px">3</span></div>
<div class="t" style="left:118.2px;top:-1.3px;font-size:34px;">10</div>
<div class="t" style="left:131.3px;top:170.5px;font-size:34px;">1</div>
<div class="t" style="left:111.1px;top:379.6px;font-size:34px;">10<span style="font-size:19.5px;position:relative;top:-10.6px">-1</span></div>
<div class="t" style="left:111.1px;top:569.2px;font-size:34px;">10<span style="font-size:19.5px;position:relative;top:-10.6px">-2</span></div>
<div class="t" style="left:950.2px;top:26.6px;font-size:30px;transform:scale(1.08,1);">0</div>
<div class="t" style="left:949.8px;top:126.7px;font-size:30px;transform:scale(1.08,1);">-10</div>
<div class="t" style="left:949.8px;top:231.5px;font-size:30px;transform:scale(1.08,1);">-20</div>
<div class="t" style="left:949.8px;top:336.3px;font-size:30px;transform:scale(1.08,1);">-30</div>
<div class="t" style="left:949.8px;top:441.1px;font-size:30px;transform:scale(1.08,1);">-40</div>
<div class="t" style="left:949.8px;top:545.9px;font-size:30px;transform:scale(1.08,1);">-50</div>
<div class="t" style="left:439.2px;top:36.7px;font-size:34px;color:#fff;">post-Marinoan</div>
<div class="t" style="left:226.2px;top:525.0px;font-size:35px;transform:scale(1.045,1);">pre-GOE</div>
<div class="t" style="left:694.9px;top:395.9px;font-size:33.5px;transform:rotate(-45.8deg);transform-origin:0 28.4px;">Modern levels</div>
<div class="t" style="left:344.3px;top:326.1px;width:60px;text-align:center;font-size:38px;color:#363636;">1</div>
<div class="t" style="left:526.2px;top:200.3px;width:60px;text-align:center;font-size:38px;color:#363636;">2</div>
<div class="t" style="left:720.8px;top:195.8px;width:60px;text-align:center;font-size:38px;color:#363636;">3</div>
<div class="t" style="left:478.6px;top:652.5px;font-size:34.5px;"><i>p</i><span style="font-size:21px;position:relative;top:14.5px;">O</span><span style="font-size:16px;position:relative;top:14.5px;">2</span><span style="font-size:27px;position:relative;top:0.6px;">/</span><i>p</i><span style="font-size:21px;position:relative;top:14.5px;">CO</span><span style="font-size:16px;position:relative;top:14.5px;">2</span></div>
<div class="t" style="left:26.2px;top:395.6px;font-size:34.3px;transform:rotate(-90deg);transform-origin:0 29.03px;letter-spacing:0.35px;"><span style="position:relative;top:-5px"><i>p</i></span><span style="font-size:18.5px;position:relative;top:4.2px;">O</span><span style="font-size:15px;position:relative;top:10px;">2</span>/GPP (PAL)</div>
<div class="t" style="left:77.8px;top:416.2px;font-size:33.6px;transform:rotate(-90deg);transform-origin:0 28.44px;">(O<span style="font-size:18px;position:relative;top:1.2px;">2</span> residence time)</div>
<div class="t" style="left:1028.2px;top:187.2px;font-size:33.8px;transform:rotate(90deg);transform-origin:0 28.61px;">Δ<span style="font-size:24px;position:relative;top:-8px">'</span><span style="font-size:20px;position:relative;top:-9.6px">17</span>O<span style="font-size:17px;position:relative;top:5.2px;">O</span><span style="font-size:15px;position:relative;top:5.2px;">2</span> (‰)</div>
<svg width="1057" height="699" viewBox="0 0 1057 699" style="pointer-events:none"><g fill="#fff"><rect x="167.24" y="634.5" width="6.81" height="4.1"/><rect x="176.87" y="634.5" width="6.56" height="4.1"/><rect x="283.24" y="634.5" width="6.81" height="4.1"/><rect x="292.87" y="634.5" width="6.56" height="4.1"/><rect x="397.14" y="634.5" width="6.81" height="4.1"/><rect x="406.77" y="634.5" width="6.56" height="4.1"/><rect x="527.54" y="634.5" width="6.81" height="4.1"/><rect x="537.17" y="634.5" width="6.56" height="4.1"/><rect x="634.24" y="634.5" width="6.81" height="4.1"/><rect x="643.87" y="634.5" width="6.56" height="4.1"/><rect x="746.24" y="634.5" width="6.81" height="4.1"/><rect x="755.87" y="634.5" width="6.56" height="4.1"/><rect x="859.54" y="634.5" width="6.81" height="4.1"/><rect x="869.17" y="634.5" width="6.56" height="4.1"/><rect x="438.06" y="625.5" width="4.53" height="3.1"/><rect x="444.27" y="625.5" width="4.38" height="3.1"/><rect x="119.59" y="24.5" width="7.16" height="4.1"/><rect x="129.75" y="24.5" width="6.9" height="4.1"/><rect x="132.69" y="196.5" width="7.16" height="4.1"/><rect x="142.85" y="196.5" width="6.89" height="4.1"/><rect x="112.49" y="405.5" width="7.16" height="4.1"/><rect x="122.65" y="405.5" width="6.89" height="4.1"/><rect x="112.49" y="594.5" width="7.16" height="4.1"/><rect x="122.65" y="594.5" width="6.89" height="4.1"/><rect x="155.69" y="395.5" width="4.62" height="3.1"/><rect x="162.03" y="395.5" width="4.47" height="3.1"/><rect x="961.86" y="148.5" width="6.88" height="4.1"/><rect x="971.6" y="148.5" width="6.63" height="4.1"/><rect x="365.43" y="354.5" width="7.86" height="4.1"/><rect x="376.65" y="354.5" width="7.56" height="4.1"/><rect x="1037.8" y="243.4" width="3.6" height="4.35"/><rect x="1037.8" y="249.53" width="3.6" height="4.1"/></g></svg>
</body></html>
